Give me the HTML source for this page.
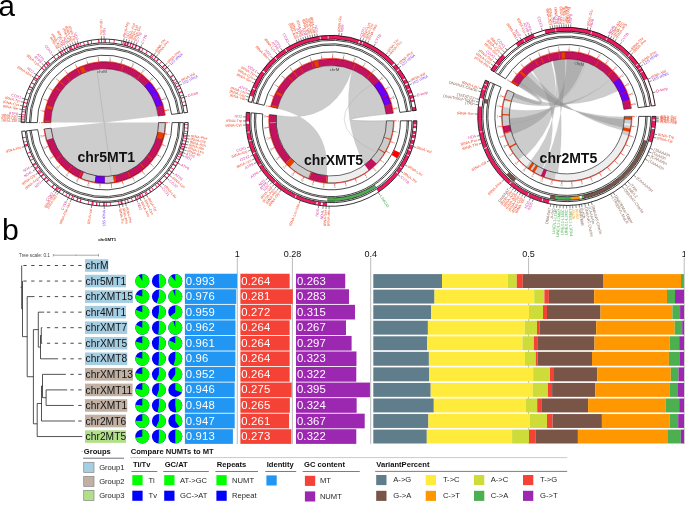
<!DOCTYPE html>
<html lang="en"><head><meta charset="utf-8"><title>NUMT figure</title>
<style>html,body{margin:0;padding:0;background:#fff}body{width:685px;height:505px;overflow:hidden}svg text{white-space:pre}</style></head>
<body>
<svg width="685" height="505" viewBox="0 0 685 505" font-family='"Liberation Sans", Arial, Helvetica, sans-serif' style="display:block">
<rect width="685" height="505" fill="#fff"/>
<g id="circos-chr5MT1">
<g fill="#8c8c8c" fill-opacity="0.44" stroke="#9a9a9a" stroke-opacity="0.5" stroke-width="0.25">
</g>
<circle cx="104.7" cy="122.6" r="54.20" fill="#cdcdcd"/>
<path d="M104.7 122.6L50.80 128.27L50.50 122.60ZM104.7 122.6L158.50 115.99L158.90 122.60Z" fill="#fff"/>
<path d="M97.2 72.5L111.6 177.0" stroke="#9e9e9e" stroke-width="0.4"/>
<path d="M21.20 122.60A83.50 83.50 0 0 1 187.58 112.42L184.00 112.86A79.90 79.90 0 0 0 24.80 122.60Z" fill="#fff" stroke="none"/>
<path d="M21.41 121.63A83.30 83.30 0 0 1 21.42 120.67L24.62 120.74A80.10 80.10 0 0 0 24.61 121.66ZM21.46 119.45A83.30 83.30 0 0 1 21.50 118.49L24.70 118.65A80.10 80.10 0 0 0 24.66 119.57ZM21.57 117.27A83.30 83.30 0 0 1 21.64 116.31L24.83 116.55A80.10 80.10 0 0 0 24.76 117.47ZM21.74 115.09A83.30 83.30 0 0 1 21.83 114.14L25.01 114.46A80.10 80.10 0 0 0 24.93 115.38ZM22.35 110.04A83.30 83.30 0 0 1 22.50 109.10L25.66 109.61A80.10 80.10 0 0 0 25.52 110.53ZM22.98 106.46A83.30 83.30 0 0 1 23.17 105.52L26.30 106.18A80.10 80.10 0 0 0 26.12 107.08ZM23.76 102.91A83.30 83.30 0 0 1 23.99 101.98L27.09 102.77A80.10 80.10 0 0 0 26.87 103.67ZM24.70 99.40A83.30 83.30 0 0 1 24.97 98.48L28.03 99.41A80.10 80.10 0 0 0 27.77 100.29ZM34.19 78.25A83.30 83.30 0 0 1 34.70 77.44L37.39 79.17A80.10 80.10 0 0 0 36.90 79.95ZM36.19 75.21A83.30 83.30 0 0 1 36.74 74.43L39.35 76.28A80.10 80.10 0 0 0 38.82 77.04ZM41.52 68.31A83.30 83.30 0 0 1 42.15 67.59L44.55 69.70A80.10 80.10 0 0 0 43.95 70.40ZM43.70 65.87A83.30 83.30 0 0 1 44.36 65.18L46.67 67.38A80.10 80.10 0 0 0 46.04 68.05ZM45.97 63.52A83.30 83.30 0 0 1 46.66 62.85L48.89 65.15A80.10 80.10 0 0 0 48.23 65.79ZM53.38 56.99A83.30 83.30 0 0 1 54.14 56.40L56.08 58.94A80.10 80.10 0 0 0 55.35 59.51ZM59.54 52.60A83.30 83.30 0 0 1 60.35 52.09L62.05 54.80A80.10 80.10 0 0 0 61.27 55.29ZM61.70 51.26A83.30 83.30 0 0 1 62.52 50.77L64.14 53.53A80.10 80.10 0 0 0 63.35 54.00ZM63.90 49.98A83.30 83.30 0 0 1 64.74 49.51L66.27 52.32A80.10 80.10 0 0 0 65.46 52.77ZM66.13 48.77A83.30 83.30 0 0 1 66.99 48.33L68.44 51.18A80.10 80.10 0 0 0 67.61 51.60ZM68.41 47.62A83.30 83.30 0 0 1 69.27 47.21L70.63 50.11A80.10 80.10 0 0 0 69.80 50.50ZM70.71 46.55A83.30 83.30 0 0 1 71.59 46.16L72.86 49.10A80.10 80.10 0 0 0 72.02 49.47ZM73.05 45.55A83.30 83.30 0 0 1 73.94 45.19L75.12 48.16A80.10 80.10 0 0 0 74.27 48.51ZM75.42 44.62A83.30 83.30 0 0 1 76.32 44.28L77.41 47.29A80.10 80.10 0 0 0 76.54 47.61ZM77.81 43.76A83.30 83.30 0 0 1 78.72 43.45L79.72 46.49A80.10 80.10 0 0 0 78.85 46.79ZM101.02 39.38A83.30 83.30 0 0 1 101.98 39.34L102.09 42.54A80.10 80.10 0 0 0 101.16 42.58ZM103.64 39.31A83.30 83.30 0 0 1 104.60 39.30L104.60 42.50A80.10 80.10 0 0 0 103.68 42.51ZM122.97 41.33A83.30 83.30 0 0 1 123.91 41.54L123.17 44.66A80.10 80.10 0 0 0 122.27 44.45ZM125.51 41.94A83.30 83.30 0 0 1 126.44 42.19L125.61 45.28A80.10 80.10 0 0 0 124.71 45.04ZM128.04 42.64A83.30 83.30 0 0 1 128.96 42.91L128.03 45.97A80.10 80.10 0 0 0 127.14 45.71ZM130.54 43.41A83.30 83.30 0 0 1 131.45 43.71L130.42 46.74A80.10 80.10 0 0 0 129.55 46.45ZM133.01 44.26A83.30 83.30 0 0 1 133.91 44.59L132.79 47.59A80.10 80.10 0 0 0 131.92 47.27ZM135.46 45.19A83.30 83.30 0 0 1 136.35 45.55L135.13 48.51A80.10 80.10 0 0 0 134.28 48.16ZM140.13 47.21A83.30 83.30 0 0 1 140.99 47.62L139.60 50.50A80.10 80.10 0 0 0 138.77 50.11ZM153.27 54.93A83.30 83.30 0 0 1 154.05 55.49L152.15 58.07A80.10 80.10 0 0 0 151.41 57.53ZM155.61 56.66A83.30 83.30 0 0 1 156.36 57.26L154.38 59.77A80.10 80.10 0 0 0 153.65 59.20ZM164.79 64.91A83.30 83.30 0 0 1 165.45 65.61L163.12 67.80A80.10 80.10 0 0 0 162.48 67.13ZM166.77 67.05A83.30 83.30 0 0 1 167.40 67.76L165.00 69.87A80.10 80.10 0 0 0 164.38 69.18ZM177.68 82.43A83.30 83.30 0 0 1 178.13 83.27L175.31 84.79A80.10 80.10 0 0 0 174.87 83.97ZM179.03 85.00A83.30 83.30 0 0 1 179.46 85.86L176.59 87.27A80.10 80.10 0 0 0 176.18 86.45ZM183.91 96.82A83.30 83.30 0 0 1 184.20 97.73L181.15 98.69A80.10 80.10 0 0 0 180.87 97.81ZM21.46 119.52A83.30 83.30 0 0 1 21.49 118.65L24.69 118.80A80.10 80.10 0 0 0 24.65 119.64ZM22.07 112.04A83.30 83.30 0 0 1 22.19 111.17L25.36 111.61A80.10 80.10 0 0 0 25.25 112.44ZM22.76 107.60A83.30 83.30 0 0 1 22.90 106.89L26.04 107.49A80.10 80.10 0 0 0 25.91 108.18ZM23.72 103.07A83.30 83.30 0 0 1 23.93 102.22L27.03 103.00A80.10 80.10 0 0 0 26.83 103.82ZM24.64 99.61A83.30 83.30 0 0 1 24.88 98.77L27.95 99.69A80.10 80.10 0 0 0 27.71 100.49ZM26.79 93.12A83.30 83.30 0 0 1 27.05 92.44L30.03 93.60A80.10 80.10 0 0 0 29.78 94.25ZM28.36 89.27A83.30 83.30 0 0 1 28.71 88.48L31.63 89.79A80.10 80.10 0 0 0 31.29 90.55ZM29.25 87.29A83.30 83.30 0 0 1 29.82 86.11L32.70 87.51A80.10 80.10 0 0 0 32.15 88.64ZM31.24 83.32A83.30 83.30 0 0 1 31.87 82.17L34.67 83.73A80.10 80.10 0 0 0 34.06 84.83ZM33.35 79.61A83.30 83.30 0 0 1 33.80 78.87L36.53 80.55A80.10 80.10 0 0 0 36.09 81.27ZM34.65 77.53A83.30 83.30 0 0 1 35.04 76.92L37.72 78.68A80.10 80.10 0 0 0 37.34 79.26ZM41.57 68.26A83.30 83.30 0 0 1 42.14 67.60L44.54 69.71A80.10 80.10 0 0 0 43.99 70.34ZM43.49 66.11A83.30 83.30 0 0 1 44.08 65.47L46.41 67.66A80.10 80.10 0 0 0 45.84 68.28ZM45.56 63.93A83.30 83.30 0 0 1 46.18 63.32L48.43 65.60A80.10 80.10 0 0 0 47.83 66.19ZM47.18 62.35A83.30 83.30 0 0 1 48.13 61.45L50.31 63.80A80.10 80.10 0 0 0 49.39 64.66ZM56.90 54.38A83.30 83.30 0 0 1 57.62 53.88L59.43 56.52A80.10 80.10 0 0 0 58.74 57.00ZM59.79 52.44A83.30 83.30 0 0 1 60.90 51.75L62.58 54.47A80.10 80.10 0 0 0 61.52 55.14ZM63.71 50.08A83.30 83.30 0 0 1 64.47 49.66L66.02 52.46A80.10 80.10 0 0 0 65.29 52.87ZM66.22 48.72A83.30 83.30 0 0 1 66.86 48.39L68.32 51.24A80.10 80.10 0 0 0 67.69 51.56ZM69.35 47.18A83.30 83.30 0 0 1 70.53 46.63L71.85 49.55A80.10 80.10 0 0 0 70.70 50.07ZM73.63 45.31A83.30 83.30 0 0 1 74.30 45.04L75.47 48.02A80.10 80.10 0 0 0 74.82 48.28ZM76.41 44.25A83.30 83.30 0 0 1 77.09 44.01L78.15 47.03A80.10 80.10 0 0 0 77.49 47.26ZM79.87 43.09A83.30 83.30 0 0 1 80.57 42.87L81.49 45.94A80.10 80.10 0 0 0 80.82 46.14ZM83.15 42.14A83.30 83.30 0 0 1 83.99 41.91L84.79 45.01A80.10 80.10 0 0 0 83.98 45.23ZM86.96 41.21A83.30 83.30 0 0 1 88.24 40.94L88.87 44.08A80.10 80.10 0 0 0 87.64 44.34ZM90.76 40.47A83.30 83.30 0 0 1 91.62 40.33L92.12 43.49A80.10 80.10 0 0 0 91.30 43.63ZM98.08 39.56A83.30 83.30 0 0 1 99.39 39.47L99.59 42.66A80.10 80.10 0 0 0 98.34 42.75ZM101.01 39.38A83.30 83.30 0 0 1 101.74 39.35L101.85 42.55A80.10 80.10 0 0 0 101.15 42.58ZM105.02 39.30A83.30 83.30 0 0 1 105.89 39.31L105.85 42.51A80.10 80.10 0 0 0 105.01 42.50ZM109.10 39.42A83.30 83.30 0 0 1 109.97 39.47L109.76 42.66A80.10 80.10 0 0 0 108.93 42.61ZM113.86 39.81A83.30 83.30 0 0 1 114.73 39.91L114.35 43.08A80.10 80.10 0 0 0 113.51 42.99ZM121.40 40.99A83.30 83.30 0 0 1 122.11 41.14L121.44 44.27A80.10 80.10 0 0 0 120.76 44.13ZM124.61 41.72A83.30 83.30 0 0 1 125.46 41.93L124.66 45.03A80.10 80.10 0 0 0 123.85 44.82ZM127.06 42.36A83.30 83.30 0 0 1 128.32 42.72L127.41 45.79A80.10 80.10 0 0 0 126.20 45.44ZM130.35 43.35A83.30 83.30 0 0 1 131.18 43.62L130.16 46.65A80.10 80.10 0 0 0 129.36 46.39ZM132.78 44.17A83.30 83.30 0 0 1 133.60 44.47L132.49 47.47A80.10 80.10 0 0 0 131.70 47.19ZM136.37 45.56A83.30 83.30 0 0 1 137.04 45.83L135.80 48.78A80.10 80.10 0 0 0 135.15 48.52ZM139.36 46.85A83.30 83.30 0 0 1 140.15 47.22L138.79 50.12A80.10 80.10 0 0 0 138.03 49.76ZM142.66 48.45A83.30 83.30 0 0 1 143.43 48.85L141.95 51.69A80.10 80.10 0 0 0 141.20 51.30ZM146.93 50.80A83.30 83.30 0 0 1 147.68 51.24L146.03 53.98A80.10 80.10 0 0 0 145.30 53.55ZM151.67 53.81A83.30 83.30 0 0 1 152.75 54.55L150.90 57.17A80.10 80.10 0 0 0 149.87 56.45ZM155.53 56.61A83.30 83.30 0 0 1 156.22 57.14L154.24 59.66A80.10 80.10 0 0 0 153.58 59.14ZM158.00 58.59A83.30 83.30 0 0 1 159.00 59.43L156.92 61.86A80.10 80.10 0 0 0 155.96 61.05ZM161.35 61.53A83.30 83.30 0 0 1 161.88 62.02L159.68 64.35A80.10 80.10 0 0 0 159.17 63.87ZM164.50 64.62A83.30 83.30 0 0 1 165.01 65.14L162.69 67.35A80.10 80.10 0 0 0 162.21 66.84ZM166.57 66.83A83.30 83.30 0 0 1 167.06 67.37L164.66 69.49A80.10 80.10 0 0 0 164.20 68.97ZM169.40 70.13A83.30 83.30 0 0 1 169.95 70.82L167.44 72.80A80.10 80.10 0 0 0 166.92 72.15ZM172.89 74.76A83.30 83.30 0 0 1 173.64 75.84L170.99 77.63A80.10 80.10 0 0 0 170.27 76.60ZM175.62 78.91A83.30 83.30 0 0 1 176.08 79.66L173.34 81.31A80.10 80.10 0 0 0 172.90 80.59ZM176.91 81.07A83.30 83.30 0 0 1 177.27 81.70L174.48 83.27A80.10 80.10 0 0 0 174.13 82.66ZM179.18 85.29A83.30 83.30 0 0 1 179.56 86.07L176.69 87.47A80.10 80.10 0 0 0 176.32 86.72ZM180.41 87.86A83.30 83.30 0 0 1 180.77 88.66L177.85 89.96A80.10 80.10 0 0 0 177.50 89.20ZM181.80 91.07A83.30 83.30 0 0 1 182.29 92.28L179.31 93.45A80.10 80.10 0 0 0 178.84 92.28ZM183.18 94.67A83.30 83.30 0 0 1 183.47 95.49L180.44 96.53A80.10 80.10 0 0 0 180.16 95.74ZM185.21 101.21A83.30 83.30 0 0 1 185.43 102.06L182.33 102.84A80.10 80.10 0 0 0 182.11 102.03ZM186.02 104.57A83.30 83.30 0 0 1 186.30 105.85L183.16 106.49A80.10 80.10 0 0 0 182.90 105.26Z" fill="#ee1a60"/>
<path d="M21.20 122.60A83.50 83.50 0 0 1 187.58 112.42L184.00 112.86A79.90 79.90 0 0 0 24.80 122.60Z" fill="none" stroke="#000" stroke-width="0.8"/>
<path d="M26.05 122.60A78.65 78.65 0 0 1 182.76 113.01M29.40 122.60A75.30 75.30 0 0 1 179.44 113.42M30.70 122.60A74.00 74.00 0 0 1 178.15 113.58M26.05 122.60L37.30 122.60M182.76 113.01L171.60 114.39M37.30 122.60A67.40 67.40 0 0 1 171.60 114.39" fill="none" stroke="#000" stroke-width="0.72"/>
<path d="M44.00 122.60A60.70 60.70 0 0 1 164.95 115.20L158.20 116.03A53.90 53.90 0 0 0 50.80 122.60Z" fill="#c4125f"/>
<path d="M44.00 122.60A60.70 60.70 0 0 1 44.04 120.40L50.84 120.65A53.90 53.90 0 0 0 50.80 122.60ZM45.76 108.08A60.70 60.70 0 0 1 46.48 105.43L53.00 107.35A53.90 53.90 0 0 0 52.36 109.71ZM55.05 87.68A60.70 60.70 0 0 1 55.58 86.94L61.09 90.93A53.90 53.90 0 0 0 60.61 91.59ZM59.62 81.95A60.70 60.70 0 0 1 60.36 81.14L65.33 85.79A53.90 53.90 0 0 0 64.67 86.51ZM65.82 75.99A60.70 60.70 0 0 1 66.39 75.52L70.68 80.79A53.90 53.90 0 0 0 70.18 81.21ZM76.79 68.70A60.70 60.70 0 0 1 77.61 68.28L80.64 74.37A53.90 53.90 0 0 0 79.92 74.74ZM79.43 67.41A60.70 60.70 0 0 1 83.49 65.73L85.86 72.10A53.90 53.90 0 0 0 82.26 73.59ZM122.89 64.69A60.70 60.70 0 0 1 123.76 64.97L121.62 71.43A53.90 53.90 0 0 0 120.85 71.18ZM140.63 73.67A60.70 60.70 0 0 1 141.36 74.22L137.25 79.64A53.90 53.90 0 0 0 136.60 79.15Z" fill="#e64000"/>
<path d="M149.48 81.62A60.70 60.70 0 0 1 162.79 104.99L156.28 106.97A53.90 53.90 0 0 0 144.46 86.21Z" fill="#6a00f4"/>
<path d="M159.08 95.63A60.70 60.70 0 0 1 159.40 96.29L153.27 99.24A53.90 53.90 0 0 0 152.99 98.65Z" fill="#e0003c"/>
<path d="M44.00 122.60A60.70 60.70 0 0 1 164.95 115.20L158.20 116.03A53.90 53.90 0 0 0 50.80 122.60Z" fill="none" stroke="#2a0a14" stroke-width="0.45"/>
<path d="M43.55 122.60A61.15 61.15 0 0 1 165.39 115.15M43.70 122.60L41.00 122.60M44.73 111.43L42.08 110.94M47.79 100.64L45.27 99.67M52.77 90.59L50.47 89.18M59.51 81.63L57.51 79.82M67.77 74.05L66.14 71.90M77.28 68.11L76.07 65.70M87.72 64.01L86.97 61.42M98.74 61.89L98.47 59.21M109.95 61.83L110.18 59.14M120.99 63.82L121.71 61.21M131.48 67.79L132.66 65.36M141.06 73.62L142.67 71.45M149.41 81.10L151.39 79.27M156.25 89.99L158.53 88.55M161.35 99.98L163.86 98.98M164.53 110.73L167.18 110.21" fill="none" stroke="#ff2a1a" stroke-width="0.7"/>
<g font-size="2.4" fill="#666" text-anchor="middle"><text x="39.80" y="122.60" transform="rotate(450.0 39.80 122.60)" dy="0.8">0</text><text x="40.90" y="110.72" transform="rotate(280.5 40.90 110.72)" dy="0.8">1</text><text x="44.15" y="99.24" transform="rotate(291.1 44.15 99.24)" dy="0.8">2</text><text x="49.45" y="88.55" transform="rotate(301.6 49.45 88.55)" dy="0.8">3</text><text x="56.62" y="79.01" transform="rotate(312.2 56.62 79.01)" dy="0.8">4</text><text x="65.41" y="70.94" transform="rotate(322.7 65.41 70.94)" dy="0.8">5</text><text x="75.53" y="64.62" transform="rotate(333.3 75.53 64.62)" dy="0.8">6</text><text x="86.64" y="60.26" transform="rotate(343.8 86.64 60.26)" dy="0.8">7</text><text x="98.36" y="58.01" transform="rotate(354.4 98.36 58.01)" dy="0.8">8</text><text x="110.29" y="57.94" transform="rotate(364.9 110.29 57.94)" dy="0.8">9</text><text x="122.03" y="60.06" transform="rotate(375.5 122.03 60.06)" dy="0.8">10</text><text x="133.19" y="64.29" transform="rotate(386.0 133.19 64.29)" dy="0.8">11</text><text x="143.38" y="70.49" transform="rotate(396.6 143.38 70.49)" dy="0.8">12</text><text x="152.27" y="78.45" transform="rotate(407.1 152.27 78.45)" dy="0.8">13</text><text x="159.55" y="87.90" transform="rotate(417.7 159.55 87.90)" dy="0.8">14</text><text x="164.97" y="98.53" transform="rotate(428.2 164.97 98.53)" dy="0.8">15</text><text x="168.36" y="109.97" transform="rotate(438.8 168.36 109.97)" dy="0.8">16</text></g>
<path d="M188.20 122.60A83.50 83.50 0 0 1 21.66 131.33L25.24 130.95A79.90 79.90 0 0 0 184.60 122.60Z" fill="#fff" stroke="none"/>
<path d="M187.05 135.16A83.30 83.30 0 0 1 186.90 136.10L183.74 135.59A80.10 80.10 0 0 0 183.88 134.67ZM186.56 138.02A83.30 83.30 0 0 1 186.38 138.97L183.24 138.34A80.10 80.10 0 0 0 183.42 137.43ZM185.97 140.87A83.30 83.30 0 0 1 185.76 141.81L182.64 141.07A80.10 80.10 0 0 0 182.85 140.17ZM185.28 143.70A83.30 83.30 0 0 1 185.04 144.62L181.95 143.78A80.10 80.10 0 0 0 182.19 142.89ZM184.50 146.50A83.30 83.30 0 0 1 184.22 147.41L181.16 146.46A80.10 80.10 0 0 0 181.43 145.58ZM183.62 149.27A83.30 83.30 0 0 1 183.30 150.17L180.28 149.11A80.10 80.10 0 0 0 180.58 148.24ZM182.64 152.00A83.30 83.30 0 0 1 182.29 152.90L179.31 151.74A80.10 80.10 0 0 0 179.64 150.87ZM181.56 154.71A83.30 83.30 0 0 1 181.19 155.59L178.25 154.32A80.10 80.10 0 0 0 178.61 153.47ZM177.79 162.56A83.30 83.30 0 0 1 177.32 163.40L174.53 161.84A80.10 80.10 0 0 0 174.98 161.03ZM171.95 171.76A83.30 83.30 0 0 1 171.37 172.53L168.81 170.62A80.10 80.10 0 0 0 169.36 169.87ZM169.60 174.82A83.30 83.30 0 0 1 168.99 175.56L166.52 173.53A80.10 80.10 0 0 0 167.11 172.81ZM167.12 177.76A83.30 83.30 0 0 1 166.48 178.48L164.10 176.33A80.10 80.10 0 0 0 164.72 175.64ZM162.39 182.69A83.30 83.30 0 0 1 161.69 183.35L159.50 181.02A80.10 80.10 0 0 0 160.17 180.38ZM160.04 184.86A83.30 83.30 0 0 1 159.32 185.50L157.22 183.08A80.10 80.10 0 0 0 157.91 182.47ZM146.76 194.50A83.30 83.30 0 0 1 145.93 194.98L144.35 192.20A80.10 80.10 0 0 0 145.15 191.74ZM143.59 196.27A83.30 83.30 0 0 1 142.74 196.71L141.28 193.86A80.10 80.10 0 0 0 142.09 193.44ZM140.34 197.89A83.30 83.30 0 0 1 139.47 198.30L138.13 195.39A80.10 80.10 0 0 0 138.97 195.00ZM137.02 199.37A83.30 83.30 0 0 1 136.13 199.74L134.93 196.78A80.10 80.10 0 0 0 135.78 196.42ZM126.02 203.13A83.30 83.30 0 0 1 125.09 203.37L124.31 200.26A80.10 80.10 0 0 0 125.20 200.03ZM122.84 203.90A83.30 83.30 0 0 1 121.91 204.10L121.24 200.97A80.10 80.10 0 0 0 122.15 200.78ZM119.64 204.55A83.30 83.30 0 0 1 118.69 204.72L118.15 201.56A80.10 80.10 0 0 0 119.06 201.40ZM104.74 205.90A83.30 83.30 0 0 1 103.78 205.89L103.82 202.70A80.10 80.10 0 0 0 104.74 202.70ZM92.29 204.97A83.30 83.30 0 0 1 91.34 204.82L91.85 201.66A80.10 80.10 0 0 0 92.76 201.81ZM71.92 199.18A83.30 83.30 0 0 1 71.04 198.80L72.34 195.87A80.10 80.10 0 0 0 73.18 196.24ZM68.88 197.80A83.30 83.30 0 0 1 68.01 197.39L69.42 194.51A80.10 80.10 0 0 0 70.25 194.92ZM59.12 192.33A83.30 83.30 0 0 1 58.32 191.80L60.11 189.14A80.10 80.10 0 0 0 60.88 189.65ZM57.31 191.11A83.30 83.30 0 0 1 56.53 190.56L58.38 187.95A80.10 80.10 0 0 0 59.14 188.48ZM55.54 189.85A83.30 83.30 0 0 1 54.77 189.27L56.68 186.71A80.10 80.10 0 0 0 57.43 187.26ZM44.11 179.76A83.30 83.30 0 0 1 43.45 179.06L45.80 176.89A80.10 80.10 0 0 0 46.43 177.56ZM41.20 176.51A83.30 83.30 0 0 1 40.58 175.78L43.04 173.73A80.10 80.10 0 0 0 43.64 174.44ZM38.46 173.11A83.30 83.30 0 0 1 37.89 172.35L40.45 170.44A80.10 80.10 0 0 0 41.01 171.17ZM35.91 169.58A83.30 83.30 0 0 1 35.37 168.78L38.04 167.01A80.10 80.10 0 0 0 38.55 167.77ZM33.55 165.91A83.30 83.30 0 0 1 33.05 165.09L35.80 163.46A80.10 80.10 0 0 0 36.28 164.25ZM25.01 146.86A83.30 83.30 0 0 1 24.74 145.94L27.81 145.04A80.10 80.10 0 0 0 28.07 145.93ZM187.98 124.34A83.30 83.30 0 0 1 187.96 125.22L184.76 125.12A80.10 80.10 0 0 0 184.78 124.28ZM187.84 127.77A83.30 83.30 0 0 1 187.79 128.50L184.60 128.27A80.10 80.10 0 0 0 184.65 127.57ZM187.58 130.97A83.30 83.30 0 0 1 187.49 131.84L184.31 131.49A80.10 80.10 0 0 0 184.39 130.65ZM187.29 133.45A83.30 83.30 0 0 1 187.19 134.17L184.02 133.73A80.10 80.10 0 0 0 184.12 133.04ZM186.85 136.38A83.30 83.30 0 0 1 186.73 137.09L183.58 136.54A80.10 80.10 0 0 0 183.70 135.85ZM186.01 140.71A83.30 83.30 0 0 1 185.81 141.56L182.70 140.83A80.10 80.10 0 0 0 182.88 140.02ZM185.03 144.64A83.30 83.30 0 0 1 184.84 145.34L181.76 144.47A80.10 80.10 0 0 0 181.95 143.79ZM183.95 148.25A83.30 83.30 0 0 1 183.68 149.08L180.65 148.06A80.10 80.10 0 0 0 180.91 147.26ZM182.05 153.52A83.30 83.30 0 0 1 181.78 154.19L178.82 152.98A80.10 80.10 0 0 0 179.08 152.33ZM180.58 156.96A83.30 83.30 0 0 1 180.22 157.76L177.32 156.41A80.10 80.10 0 0 0 177.67 155.64ZM179.47 159.31A83.30 83.30 0 0 1 179.09 160.09L176.23 158.65A80.10 80.10 0 0 0 176.60 157.90ZM177.93 162.31A83.30 83.30 0 0 1 177.58 162.95L174.78 161.40A80.10 80.10 0 0 0 175.11 160.78ZM176.19 165.36A83.30 83.30 0 0 1 175.51 166.48L172.79 164.79A80.10 80.10 0 0 0 173.44 163.72ZM173.87 169.01A83.30 83.30 0 0 1 173.38 169.73L170.74 167.92A80.10 80.10 0 0 0 171.21 167.23ZM169.85 174.51A83.30 83.30 0 0 1 169.30 175.19L166.82 173.17A80.10 80.10 0 0 0 167.34 172.52ZM167.18 177.70A83.30 83.30 0 0 1 166.60 178.35L164.22 176.21A80.10 80.10 0 0 0 164.78 175.58ZM161.60 183.44A83.30 83.30 0 0 1 161.07 183.93L158.90 181.58A80.10 80.10 0 0 0 159.41 181.10ZM159.70 185.16A83.30 83.30 0 0 1 159.04 185.73L156.96 183.31A80.10 80.10 0 0 0 157.59 182.76ZM157.57 186.97A83.30 83.30 0 0 1 157.01 187.43L155.00 184.94A80.10 80.10 0 0 0 155.54 184.50ZM153.80 189.89A83.30 83.30 0 0 1 153.09 190.40L151.23 187.80A80.10 80.10 0 0 0 151.91 187.31ZM151.35 191.62A83.30 83.30 0 0 1 150.26 192.34L148.51 189.66A80.10 80.10 0 0 0 149.55 188.96ZM147.86 193.84A83.30 83.30 0 0 1 147.24 194.22L145.61 191.47A80.10 80.10 0 0 0 146.21 191.11ZM143.69 196.21A83.30 83.30 0 0 1 143.05 196.55L141.57 193.71A80.10 80.10 0 0 0 142.19 193.38ZM141.74 197.21A83.30 83.30 0 0 1 140.56 197.79L139.18 194.90A80.10 80.10 0 0 0 140.32 194.35ZM138.76 198.62A83.30 83.30 0 0 1 137.97 198.97L136.69 196.04A80.10 80.10 0 0 0 137.46 195.70ZM136.57 199.56A83.30 83.30 0 0 1 135.77 199.89L134.57 196.92A80.10 80.10 0 0 0 135.35 196.60ZM132.91 200.98A83.30 83.30 0 0 1 132.09 201.27L131.04 198.25A80.10 80.10 0 0 0 131.83 197.97ZM128.80 202.34A83.30 83.30 0 0 1 127.96 202.59L127.07 199.51A80.10 80.10 0 0 0 127.87 199.28ZM122.24 204.03A83.30 83.30 0 0 1 120.96 204.30L120.33 201.16A80.10 80.10 0 0 0 121.57 200.90ZM110.86 205.67A83.30 83.30 0 0 1 109.99 205.73L109.79 202.54A80.10 80.10 0 0 0 110.62 202.48ZM106.75 205.87A83.30 83.30 0 0 1 105.88 205.89L105.83 202.69A80.10 80.10 0 0 0 106.67 202.68ZM104.03 205.90A83.30 83.30 0 0 1 103.16 205.89L103.22 202.69A80.10 80.10 0 0 0 104.06 202.70ZM99.98 205.77A83.30 83.30 0 0 1 99.11 205.71L99.33 202.52A80.10 80.10 0 0 0 100.16 202.57ZM97.20 205.56A83.30 83.30 0 0 1 95.89 205.43L96.23 202.25A80.10 80.10 0 0 0 97.48 202.37ZM93.28 205.11A83.30 83.30 0 0 1 92.41 204.99L92.89 201.82A80.10 80.10 0 0 0 93.72 201.94ZM88.45 204.30A83.30 83.30 0 0 1 87.74 204.16L88.39 201.02A80.10 80.10 0 0 0 89.08 201.16ZM80.65 202.35A83.30 83.30 0 0 1 79.40 201.96L80.37 198.92A80.10 80.10 0 0 0 81.57 199.29ZM77.44 201.31A83.30 83.30 0 0 1 76.21 200.88L77.31 197.87A80.10 80.10 0 0 0 78.49 198.29ZM73.44 199.81A83.30 83.30 0 0 1 72.77 199.54L73.99 196.58A80.10 80.10 0 0 0 74.64 196.85ZM68.95 197.84A83.30 83.30 0 0 1 68.30 197.53L69.70 194.65A80.10 80.10 0 0 0 70.33 194.95ZM66.08 196.40A83.30 83.30 0 0 1 65.43 196.06L66.94 193.24A80.10 80.10 0 0 0 67.56 193.57ZM62.80 194.60A83.30 83.30 0 0 1 62.05 194.16L63.69 191.41A80.10 80.10 0 0 0 64.41 191.83ZM59.45 192.54A83.30 83.30 0 0 1 58.72 192.06L60.49 189.39A80.10 80.10 0 0 0 61.19 189.85ZM56.20 190.33A83.30 83.30 0 0 1 55.50 189.82L57.39 187.23A80.10 80.10 0 0 0 58.07 187.73ZM52.53 187.54A83.30 83.30 0 0 1 51.52 186.71L53.56 184.25A80.10 80.10 0 0 0 54.54 185.05ZM46.85 182.54A83.30 83.30 0 0 1 45.92 181.62L48.18 179.35A80.10 80.10 0 0 0 49.07 180.24ZM44.48 180.16A83.30 83.30 0 0 1 43.88 179.52L46.22 177.34A80.10 80.10 0 0 0 46.80 177.94ZM41.62 177.00A83.30 83.30 0 0 1 41.05 176.34L43.50 174.27A80.10 80.10 0 0 0 44.04 174.91ZM39.28 174.16A83.30 83.30 0 0 1 38.74 173.47L41.27 171.52A80.10 80.10 0 0 0 41.79 172.18ZM37.59 171.95A83.30 83.30 0 0 1 37.16 171.36L39.76 169.49A80.10 80.10 0 0 0 40.17 170.05ZM35.13 168.41A83.30 83.30 0 0 1 34.73 167.80L37.42 166.07A80.10 80.10 0 0 0 37.80 166.65ZM32.97 164.95A83.30 83.30 0 0 1 32.53 164.20L35.30 162.60A80.10 80.10 0 0 0 35.73 163.33ZM30.70 160.84A83.30 83.30 0 0 1 30.30 160.06L33.16 158.62A80.10 80.10 0 0 0 33.54 159.37ZM29.06 157.50A83.30 83.30 0 0 1 28.70 156.70L31.62 155.39A80.10 80.10 0 0 0 31.97 156.16ZM27.48 153.83A83.30 83.30 0 0 1 27.15 153.02L30.13 151.86A80.10 80.10 0 0 0 30.44 152.63ZM24.70 145.83A83.30 83.30 0 0 1 24.35 144.57L27.44 143.72A80.10 80.10 0 0 0 27.78 144.93ZM23.79 142.40A83.30 83.30 0 0 1 23.62 141.69L26.73 140.96A80.10 80.10 0 0 0 26.90 141.64ZM22.87 138.18A83.30 83.30 0 0 1 22.71 137.32L25.86 136.75A80.10 80.10 0 0 0 26.01 137.58Z" fill="#ee1a60"/>
<path d="M188.20 122.60A83.50 83.50 0 0 1 21.66 131.33L25.24 130.95A79.90 79.90 0 0 0 184.60 122.60Z" fill="none" stroke="#000" stroke-width="0.8"/>
<path d="M183.35 122.60A78.65 78.65 0 0 1 26.48 130.82M180.00 122.60A75.30 75.30 0 0 1 29.81 130.47M178.70 122.60A74.00 74.00 0 0 1 31.11 130.34M183.35 122.60L172.10 122.60M26.48 130.82L37.67 129.65M172.10 122.60A67.40 67.40 0 0 1 37.67 129.65" fill="none" stroke="#000" stroke-width="0.72"/>
<path d="M165.40 122.60A60.70 60.70 0 0 1 44.33 128.94L51.10 128.23A53.90 53.90 0 0 0 158.60 122.60Z" fill="#c4125f"/>
<path d="M165.40 122.60A60.70 60.70 0 0 1 164.48 133.14L157.78 131.96A53.90 53.90 0 0 0 158.60 122.60ZM114.20 182.55A60.70 60.70 0 0 1 104.70 183.30L104.70 176.50A53.90 53.90 0 0 0 113.13 175.84ZM94.68 182.47A60.70 60.70 0 0 1 81.28 178.60L83.90 172.32A53.90 53.90 0 0 0 95.80 175.76ZM46.53 139.94A60.70 60.70 0 0 1 44.33 128.94L51.10 128.23A53.90 53.90 0 0 0 53.05 138.00Z" fill="#cccccc"/>
<path d="M164.48 133.14A60.70 60.70 0 0 1 162.96 139.64L156.43 137.73A53.90 53.90 0 0 0 157.78 131.96ZM153.05 159.30A60.70 60.70 0 0 1 152.53 159.97L147.17 155.78A53.90 53.90 0 0 0 147.63 155.19ZM144.84 168.13A60.70 60.70 0 0 1 144.20 168.69L139.78 163.52A53.90 53.90 0 0 0 140.34 163.03ZM130.74 177.43A60.70 60.70 0 0 1 129.97 177.79L127.14 171.61A53.90 53.90 0 0 0 127.82 171.29ZM116.49 182.14A60.70 60.70 0 0 1 114.20 182.55L113.13 175.84A53.90 53.90 0 0 0 115.17 175.47ZM79.53 177.83A60.70 60.70 0 0 1 78.57 177.39L81.50 171.25A53.90 53.90 0 0 0 82.35 171.65ZM68.51 171.33A60.70 60.70 0 0 1 67.83 170.82L71.96 165.42A53.90 53.90 0 0 0 72.56 165.87ZM56.48 159.47A60.70 60.70 0 0 1 55.97 158.79L61.43 154.74A53.90 53.90 0 0 0 61.88 155.34Z" fill="#e64000"/>
<path d="M104.70 183.30A60.70 60.70 0 0 1 94.68 182.47L95.80 175.76A53.90 53.90 0 0 0 104.70 176.50Z" fill="#6a00f4"/>
<path d="M165.40 122.60A60.70 60.70 0 0 1 44.33 128.94L51.10 128.23A53.90 53.90 0 0 0 158.60 122.60Z" fill="none" stroke="#111" stroke-width="0.6"/>
<path d="M165.85 122.60A61.15 61.15 0 0 1 43.88 128.99M165.70 122.60L168.40 122.60M164.68 133.70L167.34 134.19M161.66 144.42L164.18 145.39M156.74 154.42L159.04 155.83M150.08 163.36L152.09 165.16M141.91 170.94L143.56 173.08M132.50 176.90L133.73 179.30M122.15 181.05L122.93 183.64M111.23 183.25L111.52 185.93M100.09 183.43L99.88 186.12M89.10 181.57L88.41 184.18M78.63 177.75L77.48 180.19M69.03 172.09L67.45 174.28M60.62 164.77L58.67 166.64M53.69 156.05L51.43 157.53M48.45 146.21L45.96 147.26M45.10 135.58L42.46 136.16" fill="none" stroke="#ff2a1a" stroke-width="0.7"/>
<g font-size="2.4" fill="#666" text-anchor="middle"><text x="169.60" y="122.60" transform="rotate(270.0 169.60 122.60)" dy="0.8">0</text><text x="168.52" y="134.41" transform="rotate(280.5 168.52 134.41)" dy="0.8">1</text><text x="165.30" y="145.82" transform="rotate(291.0 165.30 145.82)" dy="0.8">2</text><text x="160.07" y="156.46" transform="rotate(301.4 160.07 156.46)" dy="0.8">3</text><text x="152.98" y="165.97" transform="rotate(311.9 152.98 165.97)" dy="0.8">4</text><text x="144.29" y="174.03" transform="rotate(322.4 144.29 174.03)" dy="0.8">5</text><text x="134.27" y="180.37" transform="rotate(332.9 134.27 180.37)" dy="0.8">6</text><text x="123.27" y="184.79" transform="rotate(343.4 123.27 184.79)" dy="0.8">7</text><text x="111.65" y="187.13" transform="rotate(353.9 111.65 187.13)" dy="0.8">8</text><text x="99.79" y="187.31" transform="rotate(364.3 99.79 187.31)" dy="0.8">9</text><text x="88.10" y="185.34" transform="rotate(374.8 88.10 185.34)" dy="0.8">10</text><text x="76.96" y="181.27" transform="rotate(385.3 76.96 181.27)" dy="0.8">11</text><text x="66.75" y="175.25" transform="rotate(395.8 66.75 175.25)" dy="0.8">12</text><text x="57.81" y="167.47" transform="rotate(406.3 57.81 167.47)" dy="0.8">13</text><text x="50.43" y="158.19" transform="rotate(416.7 50.43 158.19)" dy="0.8">14</text><text x="44.86" y="147.72" transform="rotate(427.2 44.86 147.72)" dy="0.8">15</text><text x="41.29" y="136.41" transform="rotate(437.7 41.29 136.41)" dy="0.8">16</text></g>
<g font-size="3.70">
<text x="17.41" y="121.08" transform="rotate(361.0 17.41 121.08)" dy="1" text-anchor="end" fill="#ee4f2c">tRNA-Gln</text>
<text x="17.48" y="118.79" transform="rotate(362.5 17.48 118.79)" dy="1" text-anchor="end" fill="#ee4f2c">tRNA-Leu</text>
<text x="17.61" y="116.51" transform="rotate(364.0 17.61 116.51)" dy="1" text-anchor="end" fill="#ee4f2c">tRNA-Leu</text>
<text x="17.80" y="114.23" transform="rotate(365.5 17.80 114.23)" dy="1" text-anchor="end" fill="#d845a8">ATP8</text>
<text x="18.47" y="108.94" transform="rotate(369.0 18.47 108.94)" dy="1" text-anchor="end" fill="#ee4f2c">tRNA-Ser</text>
<text x="19.15" y="105.20" transform="rotate(371.5 19.15 105.20)" dy="1" text-anchor="end" fill="#ee4f2c">tRNA-Cys</text>
<text x="19.99" y="101.48" transform="rotate(374.0 19.99 101.48)" dy="1" text-anchor="end" fill="#ee4f2c">tRNA-Tyr</text>
<text x="21.00" y="97.81" transform="rotate(376.5 21.00 97.81)" dy="1" text-anchor="end" fill="#d845a8">COX1</text>
<text x="31.07" y="75.69" transform="rotate(392.5 31.07 75.69)" dy="1" text-anchor="end" fill="#ee4f2c">tRNA-Met</text>
<text x="33.19" y="72.53" transform="rotate(395.0 33.19 72.53)" dy="1" text-anchor="end" fill="#d845a8">ND2</text>
<text x="38.81" y="65.33" transform="rotate(401.0 38.81 65.33)" dy="1" text-anchor="end" fill="#ee4f2c">tRNA-Lys</text>
<text x="41.11" y="62.78" transform="rotate(403.2 41.11 62.78)" dy="1" text-anchor="end" fill="#d845a8">ATP8</text>
<text x="43.51" y="60.33" transform="rotate(405.5 43.51 60.33)" dy="1" text-anchor="end" fill="#d845a8">ATP6</text>
<text x="51.31" y="53.53" transform="rotate(412.3 51.31 53.53)" dy="1" text-anchor="end" fill="#d845a8">COX3</text>
<text x="57.79" y="48.97" transform="rotate(417.5 57.79 48.97)" dy="1" text-anchor="end" fill="#ee4f2c">tRNA-Ile</text>
<text x="60.06" y="47.57" transform="rotate(419.2 60.06 47.57)" dy="1" text-anchor="end" fill="#ee4f2c">tRNA-Arg</text>
<text x="62.38" y="46.25" transform="rotate(421.0 62.38 46.25)" dy="1" text-anchor="end" fill="#d845a8">CYTB</text>
<text x="64.73" y="44.99" transform="rotate(422.8 64.73 44.99)" dy="1" text-anchor="end" fill="#ee4f2c">tRNA-Gly</text>
<text x="67.12" y="43.80" transform="rotate(424.5 67.12 43.80)" dy="1" text-anchor="end" fill="#d845a8">ND3</text>
<text x="69.54" y="42.69" transform="rotate(426.2 69.54 42.69)" dy="1" text-anchor="end" fill="#ee4f2c">tRNA-Thr</text>
<text x="72.00" y="41.66" transform="rotate(428.0 72.00 41.66)" dy="1" text-anchor="end" fill="#ee4f2c">tRNA-Asp</text>
<text x="74.48" y="40.70" transform="rotate(429.8 74.48 40.70)" dy="1" text-anchor="end" fill="#ee4f2c">tRNA-Trp</text>
<text x="77.00" y="39.81" transform="rotate(431.5 77.00 39.81)" dy="1" text-anchor="end" fill="#d845a8">ND2</text>
<text x="101.35" y="35.36" transform="rotate(447.8 101.35 35.36)" dy="1" text-anchor="end" fill="#ee4f2c">tRNA-Glu</text>
<text x="104.09" y="35.30" transform="rotate(449.6 104.09 35.30)" dy="1" text-anchor="end" fill="#d845a8">ND6</text>
<text x="124.34" y="37.54" transform="rotate(-77.0 124.34 37.54)" dy="1" fill="#ee4f2c">tRNA-Arg</text>
<text x="127.00" y="38.20" transform="rotate(-75.2 127.00 38.20)" dy="1" fill="#d845a8">ND1</text>
<text x="129.64" y="38.94" transform="rotate(-73.4 129.64 38.94)" dy="1" fill="#ee4f2c">tRNA-Asp</text>
<text x="132.26" y="39.76" transform="rotate(-71.6 132.26 39.76)" dy="1" fill="#ee4f2c">tRNA-Lys</text>
<text x="134.84" y="40.67" transform="rotate(-69.8 134.84 40.67)" dy="1" fill="#ee4f2c">tRNA-Glu</text>
<text x="137.40" y="41.66" transform="rotate(-68.0 137.40 41.66)" dy="1" fill="#d845a8">CYTB</text>
<text x="142.28" y="43.80" transform="rotate(-64.5 142.28 43.80)" dy="1" fill="#d845a8">CYTB</text>
<text x="156.01" y="51.97" transform="rotate(-54.0 156.01 51.97)" dy="1" fill="#ee4f2c">tRNA-Thr</text>
<text x="158.45" y="53.81" transform="rotate(-52.0 158.45 53.81)" dy="1" fill="#ee4f2c">tRNA-Pro</text>
<text x="168.03" y="62.51" transform="rotate(-43.5 168.03 62.51)" dy="1" fill="#ee4f2c">tRNA-Phe</text>
<text x="170.08" y="64.75" transform="rotate(-41.5 170.08 64.75)" dy="1" fill="#7b3ff2">12S rRNA</text>
<text x="181.42" y="80.94" transform="rotate(-28.5 181.42 80.94)" dy="1" fill="#ee4f2c">tRNA-Val</text>
<text x="182.83" y="83.65" transform="rotate(-26.5 182.83 83.65)" dy="1" fill="#7b3ff2">16S rRNA</text>
<text x="187.87" y="96.06" transform="rotate(-17.7 187.87 96.06)" dy="1" fill="#d6337f">D-loop</text>
<text x="190.93" y="136.26" transform="rotate(9.0 190.93 136.26)" dy="1" fill="#ee4f2c">tRNA-Phe</text>
<text x="190.40" y="139.26" transform="rotate(11.0 190.40 139.26)" dy="1" fill="#ee4f2c">tRNA-Gly</text>
<text x="189.76" y="142.24" transform="rotate(13.0 189.76 142.24)" dy="1" fill="#ee4f2c">tRNA-Asn</text>
<text x="189.03" y="145.19" transform="rotate(15.0 189.03 145.19)" dy="1" fill="#ee4f2c">tRNA-Ala</text>
<text x="188.19" y="148.12" transform="rotate(17.0 188.19 148.12)" dy="1" fill="#ee4f2c">tRNA-Leu</text>
<text x="187.24" y="151.02" transform="rotate(19.0 187.24 151.02)" dy="1" fill="#ee4f2c">tRNA-Ile</text>
<text x="186.20" y="153.89" transform="rotate(21.0 186.20 153.89)" dy="1" fill="#d845a8">ATP6</text>
<text x="185.06" y="156.71" transform="rotate(23.0 185.06 156.71)" dy="1" fill="#d845a8">ND1</text>
<text x="181.05" y="164.92" transform="rotate(29.0 181.05 164.92)" dy="1" fill="#d845a8">ATP6</text>
<text x="174.88" y="174.53" transform="rotate(36.5 174.88 174.53)" dy="1" fill="#d845a8">ATP8</text>
<text x="172.40" y="177.72" transform="rotate(39.2 172.40 177.72)" dy="1" fill="#ee4f2c">tRNA-Lys</text>
<text x="169.78" y="180.79" transform="rotate(41.8 169.78 180.79)" dy="1" fill="#d845a8">COX2</text>
<text x="164.79" y="185.93" transform="rotate(46.5 164.79 185.93)" dy="1" fill="#ee4f2c">tRNA-Leu</text>
<text x="162.32" y="188.19" transform="rotate(48.7 162.32 188.19)" dy="1" fill="#d845a8">COX1</text>
<text x="148.35" y="198.20" transform="rotate(60.0 148.35 198.20)" dy="1" fill="#ee4f2c">tRNA-Tyr</text>
<text x="145.01" y="200.04" transform="rotate(62.5 145.01 200.04)" dy="1" fill="#ee4f2c">tRNA-Cys</text>
<text x="141.59" y="201.72" transform="rotate(65.0 141.59 201.72)" dy="1" fill="#ee4f2c">tRNA-Asn</text>
<text x="138.11" y="203.25" transform="rotate(67.5 138.11 203.25)" dy="1" fill="#d845a8">ND2</text>
<text x="126.56" y="207.12" transform="rotate(75.5 126.56 207.12)" dy="1" fill="#ee4f2c">tRNA-Phe</text>
<text x="123.22" y="207.91" transform="rotate(77.8 123.22 207.91)" dy="1" fill="#ee4f2c">tRNA-Phe</text>
<text x="119.86" y="208.57" transform="rotate(80.0 119.86 208.57)" dy="1" fill="#ee4f2c">tRNA-Thr</text>
<text x="104.24" y="209.90" transform="rotate(270.3 104.24 209.90)" dy="1" text-anchor="end" fill="#7b3ff2">16S rRNA</text>
<text x="91.19" y="208.85" transform="rotate(278.9 91.19 208.85)" dy="1" text-anchor="end" fill="#ee4f2c">tRNA-Val</text>
<text x="69.89" y="202.66" transform="rotate(293.5 69.89 202.66)" dy="1" text-anchor="end" fill="#ee4f2c">tRNA-Phe-like</text>
<text x="66.70" y="201.20" transform="rotate(295.8 66.70 201.20)" dy="1" text-anchor="end" fill="#d845a8">CYTB</text>
<text x="56.52" y="195.40" transform="rotate(303.5 56.52 195.40)" dy="1" text-anchor="end" fill="#ee4f2c">tRNA-Ser</text>
<text x="54.63" y="194.11" transform="rotate(305.0 54.63 194.11)" dy="1" text-anchor="end" fill="#ee4f2c">tRNA-Phe</text>
<text x="52.77" y="192.78" transform="rotate(306.5 52.77 192.78)" dy="1" text-anchor="end" fill="#d845a8">COX3</text>
<text x="40.85" y="182.14" transform="rotate(317.0 40.85 182.14)" dy="1" text-anchor="end" fill="#d845a8">ND3</text>
<text x="37.82" y="178.72" transform="rotate(320.0 37.82 178.72)" dy="1" text-anchor="end" fill="#ee4f2c">tRNA-Arg</text>
<text x="34.98" y="175.14" transform="rotate(323.0 34.98 175.14)" dy="1" text-anchor="end" fill="#ee4f2c">tRNA-Gly</text>
<text x="32.33" y="171.42" transform="rotate(326.0 32.33 171.42)" dy="1" text-anchor="end" fill="#d845a8">ND4L</text>
<text x="29.87" y="167.56" transform="rotate(329.0 29.87 167.56)" dy="1" text-anchor="end" fill="#d845a8">ND4</text>
<text x="21.04" y="147.54" transform="rotate(343.4 21.04 147.54)" dy="1" text-anchor="end" fill="#ee4f2c">tRNA-His</text>
</g>
<path d="M21.01 121.14L18.21 121.09M21.08 118.95L18.28 118.83M21.20 116.76L18.41 116.57M21.39 114.58L18.60 114.31M22.03 109.51L19.26 109.07M22.68 105.91L19.94 105.35M23.49 102.35L20.77 101.67M24.45 98.83L21.76 98.03M34.11 77.63L31.75 76.12M36.14 74.59L33.84 72.99M41.53 67.69L39.42 65.85M43.74 65.25L41.70 63.33M46.03 62.90L44.07 60.90M53.52 56.37L51.80 54.16M59.73 52.01L58.22 49.65M61.90 50.67L60.47 48.26M64.12 49.39L62.76 46.95M66.38 48.19L65.09 45.70M68.67 47.05L67.46 44.53M70.99 45.99L69.86 43.43M73.35 44.99L72.30 42.40M75.73 44.07L74.76 41.45M78.14 43.23L77.25 40.57M101.49 38.96L101.38 36.16M104.12 38.90L104.10 36.10M123.53 41.05L124.16 38.32M126.08 41.68L126.80 38.97M128.61 42.39L129.41 39.71M131.12 43.18L132.00 40.52M133.60 44.05L134.57 41.42M136.05 44.99L137.10 42.40M140.73 47.05L141.94 44.53M153.90 54.89L155.54 52.62M156.23 56.64L157.95 54.44M165.41 64.98L167.44 63.06M167.39 67.14L169.48 65.28M178.26 82.66L180.72 81.33M179.61 85.25L182.11 84.00M184.44 97.15L187.11 96.30M187.37 135.69L190.14 136.13M186.86 138.57L189.61 139.10M186.25 141.43L188.98 142.06M185.55 144.26L188.25 144.99M184.74 147.07L187.42 147.89M183.84 149.85L186.49 150.76M182.84 152.60L185.45 153.60M181.75 155.30L184.32 156.40M177.91 163.18L180.35 164.54M171.98 172.39L174.23 174.05M169.61 175.44L171.78 177.21M167.10 178.39L169.18 180.26M162.32 183.31L164.24 185.34M159.94 185.48L161.79 187.58M146.55 195.09L147.95 197.51M143.35 196.84L144.64 199.33M140.07 198.46L141.26 201.00M136.73 199.93L137.80 202.52M125.66 203.63L126.36 206.34M122.46 204.39L123.05 207.13M119.23 205.03L119.72 207.79M104.26 206.30L104.25 209.10M91.75 205.29L91.32 208.06M71.32 199.36L70.21 201.93M68.27 197.96L67.05 200.48M58.50 192.40L56.96 194.73M56.69 191.16L55.09 193.46M54.91 189.88L53.25 192.13M43.49 179.68L41.44 181.59M40.58 176.40L38.44 178.20M37.85 172.97L35.62 174.66M35.31 169.40L32.99 170.97M32.96 165.71L30.56 167.15M24.49 146.51L21.81 147.31" stroke="#111" stroke-width="0.5" fill="none"/>
<text x="106.2" y="162.4" font-size="14.0" font-weight="700" text-anchor="middle" fill="#111">chr5MT1</text>
<text x="102.0" y="73.2" font-size="4.3" fill="#444" text-anchor="middle" transform="rotate(0 102.0 73.2)">chrM</text>
</g>
<g id="circos-chrXMT5">
<g fill="#8c8c8c" fill-opacity="0.44" stroke="#9a9a9a" stroke-opacity="0.5" stroke-width="0.25">
<path d="M277.62 108.38A55.19 55.19 0 0 1 352.08 69.63Q333.97 125.05 276.48 115.32A55.19 55.19 0 0 0 326.59 175.78Q331.40 120.80 277.62 108.38Z"/>
<path d="M352.08 69.63A55.19 55.19 0 0 1 386.18 114.07Q314.87 121.81 386.59 120.80A55.19 55.19 0 0 1 364.62 164.88Q340.70 119.58 352.08 69.63Z"/>
</g>
<path d="M372.42 83.87A55.19 55.19 0 0 1 386.18 114.07Q314.87 121.81 386.59 120.80A55.19 55.19 0 0 1 376.61 152.46Q313.77 121.88 372.42 83.87Z" fill="none" stroke="#aaa" stroke-width="0.4"/>
<path d="M248.09 101.57A85.50 85.50 0 0 1 416.27 110.38L412.61 110.83A81.82 81.82 0 0 0 251.68 102.40Z" fill="#ee1a60" stroke="none"/>
<path d="M248.28 101.61A85.30 85.30 0 0 1 249.82 95.86L252.97 96.82A82.02 82.02 0 0 0 251.48 102.35ZM252.31 88.84A85.30 85.30 0 0 1 252.76 87.74L255.79 89.02A82.02 82.02 0 0 0 255.35 90.08ZM261.95 71.26A85.30 85.30 0 0 1 262.65 70.30L265.30 72.24A82.02 82.02 0 0 0 264.63 73.17ZM274.32 57.41A85.30 85.30 0 0 1 274.99 56.81L277.16 59.28A82.02 82.02 0 0 0 276.52 59.85ZM284.94 49.26A85.30 85.30 0 0 1 285.57 48.86L287.33 51.63A82.02 82.02 0 0 0 286.73 52.01ZM319.53 36.33A85.30 85.30 0 0 1 320.41 36.21L320.84 39.47A82.02 82.02 0 0 0 319.99 39.58ZM327.68 35.58A85.30 85.30 0 0 1 328.42 35.55L328.54 38.83A82.02 82.02 0 0 0 327.82 38.86ZM359.17 40.14A85.30 85.30 0 0 1 360.30 40.54L359.18 43.63A82.02 82.02 0 0 0 358.10 43.25ZM362.66 41.43A85.30 85.30 0 0 1 363.36 41.71L362.12 44.75A82.02 82.02 0 0 0 361.46 44.49ZM394.29 63.17A85.30 85.30 0 0 1 395.39 64.39L392.92 66.56A82.02 82.02 0 0 0 391.87 65.39ZM399.08 68.87A85.30 85.30 0 0 1 399.53 69.46L396.90 71.44A82.02 82.02 0 0 0 396.47 70.87ZM405.28 78.15A85.30 85.30 0 0 1 405.86 79.18L402.99 80.79A82.02 82.02 0 0 0 402.43 79.79ZM407.74 82.74A85.30 85.30 0 0 1 408.39 84.08L405.43 85.49A82.02 82.02 0 0 0 404.80 84.20ZM410.21 88.16A85.30 85.30 0 0 1 410.60 89.12L407.55 90.34A82.02 82.02 0 0 0 407.17 89.41ZM412.06 93.03A85.30 85.30 0 0 1 412.53 94.44L409.40 95.46A82.02 82.02 0 0 0 408.95 94.10ZM413.60 98.00A85.30 85.30 0 0 1 413.99 99.44L410.81 100.26A82.02 82.02 0 0 0 410.43 98.88ZM414.52 101.61A85.30 85.30 0 0 1 415.53 106.72L412.29 107.26A82.02 82.02 0 0 0 411.32 102.35Z" fill="#ffffff"/>
<path d="M248.09 101.57A85.50 85.50 0 0 1 416.27 110.38L412.61 110.83A81.82 81.82 0 0 0 251.68 102.40Z" fill="none" stroke="#000" stroke-width="0.8"/>
<path d="M252.93 102.68A80.54 80.54 0 0 1 411.34 110.98M256.27 103.45A77.11 77.11 0 0 1 407.93 111.40M257.57 103.75A75.78 75.78 0 0 1 406.61 111.57M252.93 102.68L264.15 105.27M411.34 110.98L399.90 112.39M264.15 105.27A69.02 69.02 0 0 1 399.90 112.39" fill="none" stroke="#000" stroke-width="0.72"/>
<path d="M270.84 106.82A62.16 62.16 0 0 1 393.09 113.22L386.18 114.07A55.19 55.19 0 0 0 277.62 108.38Z" fill="#c4125f"/>
<path d="M270.84 106.82A62.16 62.16 0 0 1 271.34 104.80L278.07 106.59A55.19 55.19 0 0 0 277.62 108.38ZM275.44 93.75A62.16 62.16 0 0 1 276.62 91.43L282.76 94.72A55.19 55.19 0 0 0 281.71 96.78ZM287.82 76.48A62.16 62.16 0 0 1 288.44 75.88L293.25 80.91A55.19 55.19 0 0 0 292.70 81.45ZM293.03 71.90A62.16 62.16 0 0 1 293.85 71.26L298.06 76.81A55.19 55.19 0 0 0 297.33 77.38ZM299.76 67.30A62.16 62.16 0 0 1 300.36 66.95L303.84 72.98A55.19 55.19 0 0 0 303.30 73.29ZM311.08 62.06A62.16 62.16 0 0 1 311.90 61.78L314.09 68.39A55.19 55.19 0 0 0 313.36 68.64ZM313.73 61.21A62.16 62.16 0 0 1 317.76 60.16L319.28 66.95A55.19 55.19 0 0 0 315.71 67.88ZM355.05 63.32A62.16 62.16 0 0 1 355.85 63.65L353.11 70.05A55.19 55.19 0 0 0 352.40 69.76ZM371.19 73.05A62.16 62.16 0 0 1 371.85 73.61L367.32 78.89A55.19 55.19 0 0 0 366.73 78.40Z" fill="#e64000"/>
<path d="M379.15 81.01A62.16 62.16 0 0 1 391.11 103.54L384.42 105.48A55.19 55.19 0 0 0 373.80 85.47Z" fill="#6a00f4"/>
<path d="M387.77 94.61A62.16 62.16 0 0 1 388.06 95.24L381.71 98.10A55.19 55.19 0 0 0 381.45 97.54Z" fill="#e0003c"/>
<path d="M270.84 106.82A62.16 62.16 0 0 1 393.09 113.22L386.18 114.07A55.19 55.19 0 0 0 277.62 108.38Z" fill="none" stroke="#2a0a14" stroke-width="0.45"/>
<path d="M270.40 106.72A62.61 62.61 0 0 1 393.54 113.17M270.54 106.75L267.84 106.13M273.80 96.64L271.25 95.57M278.73 87.23L276.39 85.74M285.18 78.79L283.13 76.93M292.97 71.57L291.26 69.38M301.87 65.77L300.56 63.32M311.62 61.56L310.74 58.93M321.94 59.06L321.53 56.32M332.54 58.35L332.59 55.58M343.11 59.45L343.63 56.73M353.34 62.32L354.31 59.73M362.93 66.88L364.33 64.49M371.61 73.01L373.39 70.89M379.12 80.51L381.24 78.72M385.26 89.18L387.65 87.78M389.84 98.77L392.43 97.79M392.73 108.99L395.45 108.46" fill="none" stroke="#ff2a1a" stroke-width="0.7"/>
<g font-size="2.4" fill="#666" text-anchor="middle"><text x="266.67" y="105.86" transform="rotate(283.0 266.67 105.86)" dy="0.8">0</text><text x="270.14" y="95.10" transform="rotate(292.8 270.14 95.10)" dy="0.8">1</text><text x="275.38" y="85.10" transform="rotate(302.5 275.38 85.10)" dy="0.8">2</text><text x="282.24" y="76.12" transform="rotate(312.3 282.24 76.12)" dy="0.8">3</text><text x="290.52" y="68.44" transform="rotate(322.0 290.52 68.44)" dy="0.8">4</text><text x="299.99" y="62.27" transform="rotate(331.8 299.99 62.27)" dy="0.8">5</text><text x="310.36" y="57.79" transform="rotate(341.5 310.36 57.79)" dy="0.8">6</text><text x="321.34" y="55.14" transform="rotate(351.3 321.34 55.14)" dy="0.8">7</text><text x="332.62" y="54.38" transform="rotate(361.0 332.62 54.38)" dy="0.8">8</text><text x="343.85" y="55.55" transform="rotate(370.8 343.85 55.55)" dy="0.8">9</text><text x="354.73" y="58.60" transform="rotate(380.6 354.73 58.60)" dy="0.8">10</text><text x="364.93" y="63.46" transform="rotate(390.3 364.93 63.46)" dy="0.8">11</text><text x="374.16" y="69.97" transform="rotate(400.1 374.16 69.97)" dy="0.8">12</text><text x="382.16" y="77.95" transform="rotate(409.8 382.16 77.95)" dy="0.8">13</text><text x="388.69" y="87.17" transform="rotate(419.6 388.69 87.17)" dy="0.8">14</text><text x="393.56" y="97.36" transform="rotate(429.3 393.56 97.36)" dy="0.8">15</text><text x="396.63" y="108.24" transform="rotate(439.1 396.63 108.24)" dy="0.8">16</text></g>
<path d="M416.90 120.80A85.50 85.50 0 1 1 246.32 112.31L249.99 112.67A81.82 81.82 0 1 0 413.22 120.80Z" fill="#ffffff" stroke="none"/>
<path d="M416.70 120.80A85.30 85.30 0 0 1 378.36 192.02L376.55 189.27A82.02 82.02 0 0 0 413.42 120.80ZM326.94 205.99A85.30 85.30 0 0 1 246.52 112.33L249.79 112.65A82.02 82.02 0 0 0 327.11 202.71Z" fill="#ee1a60"/>
<path d="M416.62 124.52A85.30 85.30 0 0 1 416.56 125.71L413.28 125.52A82.02 82.02 0 0 0 413.34 124.38ZM416.38 128.23A85.30 85.30 0 0 1 416.07 131.20L412.81 130.80A82.02 82.02 0 0 0 413.11 127.95ZM415.65 134.14A85.30 85.30 0 0 1 415.51 135.03L412.27 134.48A82.02 82.02 0 0 0 412.41 133.63ZM414.84 138.54A85.30 85.30 0 0 1 414.45 140.28L411.25 139.53A82.02 82.02 0 0 0 411.63 137.85ZM413.40 144.31A85.30 85.30 0 0 1 413.15 145.17L410.00 144.23A82.02 82.02 0 0 0 410.24 143.41ZM411.56 149.98A85.30 85.30 0 0 1 411.14 151.09L408.07 149.93A82.02 82.02 0 0 0 408.47 148.85ZM409.33 155.50A85.30 85.30 0 0 1 409.02 156.17L406.03 154.81A82.02 82.02 0 0 0 406.33 154.16ZM402.53 167.88A85.30 85.30 0 0 1 402.12 168.50L399.40 166.66A82.02 82.02 0 0 0 399.79 166.07ZM398.62 173.32A85.30 85.30 0 0 1 398.16 173.90L395.59 171.86A82.02 82.02 0 0 0 396.03 171.30ZM322.48 205.64A85.30 85.30 0 0 1 320.71 205.43L321.12 202.17A82.02 82.02 0 0 0 322.83 202.37ZM317.32 204.93A85.30 85.30 0 0 1 316.15 204.73L316.74 201.50A82.02 82.02 0 0 0 317.86 201.69ZM295.35 198.11A85.30 85.30 0 0 1 294.68 197.79L296.09 194.83A82.02 82.02 0 0 0 296.74 195.13ZM274.32 184.19A85.30 85.30 0 0 1 273.77 183.69L275.99 181.27A82.02 82.02 0 0 0 276.52 181.75ZM259.06 166.00A85.30 85.30 0 0 1 258.67 165.37L261.47 163.65A82.02 82.02 0 0 0 261.85 164.26ZM252.88 154.13A85.30 85.30 0 0 1 252.53 153.31L255.57 152.05A82.02 82.02 0 0 0 255.90 152.85ZM248.63 141.44A85.30 85.30 0 0 1 248.45 140.71L251.65 139.95A82.02 82.02 0 0 0 251.82 140.64ZM246.93 132.67A85.30 85.30 0 0 1 246.83 131.93L250.08 131.51A82.02 82.02 0 0 0 250.18 132.21ZM246.15 123.78A85.30 85.30 0 0 1 246.10 121.54L249.39 121.52A82.02 82.02 0 0 0 249.43 123.66Z" fill="#ffffff"/>
<path d="M416.90 120.80A85.50 85.50 0 1 1 246.32 112.31L249.99 112.67A81.82 81.82 0 1 0 413.22 120.80Z" fill="none" stroke="#000" stroke-width="0.8"/>
<path d="M376.44 187.32A80.33 80.33 0 0 1 327.20 201.02L327.35 198.01A77.31 77.31 0 0 0 374.74 184.82Z" fill="#4caf50"/>
<path d="M411.94 120.80A80.54 80.54 0 1 1 251.26 112.80M408.51 120.80A77.11 77.11 0 1 1 254.67 113.14M407.18 120.80A75.78 75.78 0 1 1 256.00 113.27M411.94 120.80L400.42 120.80M251.26 112.80L262.72 113.95M400.42 120.80A69.02 69.02 0 1 1 262.72 113.95" fill="none" stroke="#000" stroke-width="0.72"/>
<path d="M399.90 152.74A75.58 75.58 0 0 1 397.11 158.13L391.67 155.04A69.32 69.32 0 0 0 394.22 150.09Z" fill="#ff0000"/>
<path d="M393.56 120.80A62.16 62.16 0 1 1 269.55 114.63L276.48 115.32A55.19 55.19 0 1 0 386.59 120.80Z" fill="#cccccc"/>
<path d="M390.84 138.97A62.16 62.16 0 0 1 390.51 140.01L383.89 137.86A55.19 55.19 0 0 0 384.18 136.94ZM385.01 152.25A62.16 62.16 0 0 1 384.45 153.18L378.51 149.56A55.19 55.19 0 0 0 379.01 148.73ZM327.82 182.85A62.16 62.16 0 0 1 325.98 182.72L326.59 175.78A55.19 55.19 0 0 0 328.22 175.90ZM309.12 178.83A62.16 62.16 0 0 1 308.12 178.43L310.72 171.97A55.19 55.19 0 0 0 311.62 172.33ZM289.81 166.99A62.16 62.16 0 0 1 285.72 162.95L290.84 158.23A55.19 55.19 0 0 0 294.47 161.82ZM277.04 150.93A62.16 62.16 0 0 1 276.52 149.98L282.67 146.71A55.19 55.19 0 0 0 283.13 147.56ZM271.80 138.45A62.16 62.16 0 0 1 271.50 137.41L278.21 135.55A55.19 55.19 0 0 0 278.48 136.48Z" fill="#e64000"/>
<path d="M376.49 163.59A62.16 62.16 0 0 1 368.81 170.44L364.62 164.88A55.19 55.19 0 0 0 371.44 158.79ZM325.98 182.72A62.16 62.16 0 0 1 309.12 178.83L311.62 172.33A55.19 55.19 0 0 0 326.59 175.78ZM285.72 162.95A62.16 62.16 0 0 1 269.55 114.63L276.48 115.32A55.19 55.19 0 0 0 290.84 158.23Z" fill="#c4125f"/>
<path d="M368.81 170.44A62.16 62.16 0 0 1 327.82 182.85L328.22 175.90A55.19 55.19 0 0 0 364.62 164.88Z" fill="#eeeeee"/>
<path d="M269.29 123.29A62.16 62.16 0 0 1 269.27 122.54L276.23 122.34A55.19 55.19 0 0 0 276.25 123.02Z" fill="#e9a0b8"/>
<path d="M393.56 120.80A62.16 62.16 0 1 1 269.55 114.63L276.48 115.32A55.19 55.19 0 1 0 386.59 120.80Z" fill="none" stroke="#111" stroke-width="0.6"/>
<path d="M394.01 120.80A62.61 62.61 0 1 1 269.10 114.58M393.86 120.80L396.63 120.80M392.97 131.29L395.70 131.76M390.33 141.49L392.95 142.41M386.02 151.09L388.44 152.44M380.15 159.84L382.32 161.57M372.90 167.48L374.74 169.55M364.47 173.78L365.94 176.14M355.10 178.59L356.15 181.15M345.05 181.75L345.66 184.45M334.62 183.17L334.76 185.94M324.09 182.83L323.77 185.58M313.78 180.72L312.99 183.38M303.96 176.91L302.74 179.40M294.92 171.50L293.30 173.75M286.92 164.65L284.95 166.60M280.19 156.55L277.92 158.14M274.91 147.44L272.40 148.62M271.24 137.57L268.57 138.32M269.27 127.23L266.52 127.51M269.08 116.70L266.31 116.52" fill="none" stroke="#ff2a1a" stroke-width="0.7"/>
<g font-size="2.4" fill="#666" text-anchor="middle"><text x="397.83" y="120.80" transform="rotate(270.0 397.83 120.80)" dy="0.8">0</text><text x="396.88" y="131.96" transform="rotate(279.7 396.88 131.96)" dy="0.8">1</text><text x="394.08" y="142.80" transform="rotate(289.3 394.08 142.80)" dy="0.8">2</text><text x="389.49" y="153.02" transform="rotate(299.0 389.49 153.02)" dy="0.8">3</text><text x="383.25" y="162.32" transform="rotate(308.7 383.25 162.32)" dy="0.8">4</text><text x="375.54" y="170.44" transform="rotate(318.4 375.54 170.44)" dy="0.8">5</text><text x="366.57" y="177.15" transform="rotate(328.0 366.57 177.15)" dy="0.8">6</text><text x="356.60" y="182.26" transform="rotate(337.7 356.60 182.26)" dy="0.8">7</text><text x="345.92" y="185.62" transform="rotate(347.4 345.92 185.62)" dy="0.8">8</text><text x="334.82" y="187.14" transform="rotate(357.0 334.82 187.14)" dy="0.8">9</text><text x="323.63" y="186.77" transform="rotate(366.7 323.63 186.77)" dy="0.8">10</text><text x="312.65" y="184.53" transform="rotate(376.4 312.65 184.53)" dy="0.8">11</text><text x="302.21" y="180.47" transform="rotate(386.1 302.21 180.47)" dy="0.8">12</text><text x="292.60" y="174.72" transform="rotate(395.7 292.60 174.72)" dy="0.8">13</text><text x="284.10" y="167.44" transform="rotate(405.4 284.10 167.44)" dy="0.8">14</text><text x="276.93" y="158.83" transform="rotate(415.1 276.93 158.83)" dy="0.8">15</text><text x="271.32" y="149.14" transform="rotate(424.8 271.32 149.14)" dy="0.8">16</text><text x="267.41" y="138.64" transform="rotate(434.4 267.41 138.64)" dy="0.8">17</text><text x="265.32" y="127.64" transform="rotate(444.1 265.32 127.64)" dy="0.8">18</text><text x="265.11" y="116.44" transform="rotate(273.8 265.11 116.44)" dy="0.8">19</text></g>
<g font-size="3.79">
<text x="244.75" y="99.20" transform="rotate(374.0 244.75 99.20)" dy="1" text-anchor="end" fill="#ee4f2c">tRNA-Val</text>
<text x="245.56" y="96.18" transform="rotate(376.0 245.56 96.18)" dy="1" text-anchor="end" fill="#ee4f2c">tRNA-Leu</text>
<text x="246.47" y="93.20" transform="rotate(378.0 246.47 93.20)" dy="1" text-anchor="end" fill="#ee4f2c">tRNA-Leu</text>
<text x="247.48" y="90.26" transform="rotate(380.0 247.48 90.26)" dy="1" text-anchor="end" fill="#d845a8">ATP6</text>
<text x="251.13" y="81.65" transform="rotate(386.0 251.13 81.65)" dy="1" text-anchor="end" fill="#ee4f2c">tRNA-Ser</text>
<text x="252.79" y="78.42" transform="rotate(388.3 252.79 78.42)" dy="1" text-anchor="end" fill="#ee4f2c">tRNA-Cys</text>
<text x="254.59" y="75.25" transform="rotate(390.7 254.59 75.25)" dy="1" text-anchor="end" fill="#ee4f2c">tRNA-Tyr</text>
<text x="256.50" y="72.16" transform="rotate(393.0 256.50 72.16)" dy="1" text-anchor="end" fill="#d845a8">COX1</text>
<text x="267.70" y="58.21" transform="rotate(404.5 267.70 58.21)" dy="1" text-anchor="end" fill="#ee4f2c">tRNA-Met</text>
<text x="270.27" y="55.70" transform="rotate(406.8 270.27 55.70)" dy="1" text-anchor="end" fill="#d845a8">ND2</text>
<text x="274.96" y="51.59" transform="rotate(410.8 274.96 51.59)" dy="1" text-anchor="end" fill="#ee4f2c">tRNA-Lys</text>
<text x="277.53" y="49.57" transform="rotate(412.9 277.53 49.57)" dy="1" text-anchor="end" fill="#d845a8">ATP8</text>
<text x="280.18" y="47.65" transform="rotate(415.0 280.18 47.65)" dy="1" text-anchor="end" fill="#d845a8">ATP6</text>
<text x="288.10" y="42.69" transform="rotate(421.0 288.10 42.69)" dy="1" text-anchor="end" fill="#d845a8">COX3</text>
<text x="295.79" y="38.90" transform="rotate(426.5 295.79 38.90)" dy="1" text-anchor="end" fill="#ee4f2c">tRNA-Met</text>
<text x="298.03" y="37.97" transform="rotate(428.1 298.03 37.97)" dy="1" text-anchor="end" fill="#ee4f2c">tRNA-Pro</text>
<text x="300.29" y="37.09" transform="rotate(429.6 300.29 37.09)" dy="1" text-anchor="end" fill="#d845a8">ATP8</text>
<text x="302.57" y="36.28" transform="rotate(431.2 302.57 36.28)" dy="1" text-anchor="end" fill="#ee4f2c">tRNA-Asn</text>
<text x="304.88" y="35.53" transform="rotate(432.7 304.88 35.53)" dy="1" text-anchor="end" fill="#d845a8">ND4</text>
<text x="307.20" y="34.84" transform="rotate(434.3 307.20 34.84)" dy="1" text-anchor="end" fill="#ee4f2c">tRNA-Trp</text>
<text x="309.54" y="34.21" transform="rotate(435.8 309.54 34.21)" dy="1" text-anchor="end" fill="#ee4f2c">tRNA-Glu</text>
<text x="311.90" y="33.65" transform="rotate(437.4 311.90 33.65)" dy="1" text-anchor="end" fill="#ee4f2c">tRNA-Val</text>
<text x="314.28" y="33.15" transform="rotate(438.9 314.28 33.15)" dy="1" text-anchor="end" fill="#ee4f2c">tRNA-Leu</text>
<text x="316.66" y="32.72" transform="rotate(440.5 316.66 32.72)" dy="1" text-anchor="end" fill="#d845a8">ND5</text>
<text x="339.18" y="31.84" transform="rotate(-85.0 339.18 31.84)" dy="1" fill="#ee4f2c">tRNA-Glu</text>
<text x="341.97" y="32.12" transform="rotate(-83.2 341.97 32.12)" dy="1" fill="#d845a8">ND6</text>
<text x="361.21" y="36.62" transform="rotate(-70.5 361.21 36.62)" dy="1" fill="#d845a8">COX1</text>
<text x="363.89" y="37.62" transform="rotate(-68.7 363.89 37.62)" dy="1" fill="#ee4f2c">tRNA-Lys</text>
<text x="366.53" y="38.70" transform="rotate(-66.8 366.53 38.70)" dy="1" fill="#ee4f2c">tRNA-Thr</text>
<text x="369.14" y="39.86" transform="rotate(-65.0 369.14 39.86)" dy="1" fill="#ee4f2c">tRNA-Asp</text>
<text x="375.65" y="43.23" transform="rotate(-60.3 375.65 43.23)" dy="1" fill="#d845a8">CYTB</text>
<text x="388.20" y="51.89" transform="rotate(-50.5 388.20 51.89)" dy="1" fill="#ee4f2c">tRNA-Thr</text>
<text x="390.57" y="53.92" transform="rotate(-48.5 390.57 53.92)" dy="1" fill="#ee4f2c">tRNA-Pro</text>
<text x="399.61" y="63.16" transform="rotate(-40.2 399.61 63.16)" dy="1" fill="#ee4f2c">tRNA-Phe</text>
<text x="401.58" y="65.57" transform="rotate(-38.2 401.58 65.57)" dy="1" fill="#7b3ff2">12S rRNA</text>
<text x="411.18" y="80.67" transform="rotate(-26.7 411.18 80.67)" dy="1" fill="#ee4f2c">tRNA-Val</text>
<text x="412.53" y="83.48" transform="rotate(-24.7 412.53 83.48)" dy="1" fill="#7b3ff2">16S rRNA</text>
<text x="417.07" y="95.59" transform="rotate(-16.4 417.07 95.59)" dy="1" fill="#d6337f">D-loop</text>
<text x="416.57" y="147.65" transform="rotate(17.5 416.57 147.65)" dy="1" fill="#ee4f2c">tRNA-Val</text>
<text x="408.03" y="166.66" transform="rotate(30.9 408.03 166.66)" dy="1" fill="#ee4f2c">tRNA-Leu</text>
<text x="403.65" y="173.29" transform="rotate(36.0 403.65 173.29)" dy="1" fill="#ee4f2c">tRNA-Thr</text>
<text x="400.80" y="177.00" transform="rotate(39.0 400.80 177.00)" dy="1" fill="#d845a8">CYTB</text>
<text x="380.30" y="195.53" transform="rotate(56.8 380.30 195.53)" dy="1" fill="#4caf50">L1MC/D</text>
<text x="329.06" y="210.07" transform="rotate(271.5 329.06 210.07)" dy="1" text-anchor="end" fill="#ee4f2c">tRNA-His</text>
<text x="325.95" y="209.94" transform="rotate(273.5 325.95 209.94)" dy="1" text-anchor="end" fill="#ee4f2c">tRNA-Ser</text>
<text x="322.84" y="209.69" transform="rotate(275.5 322.84 209.69)" dy="1" text-anchor="end" fill="#d845a8">ND4L</text>
<text x="318.20" y="209.12" transform="rotate(278.5 318.20 209.12)" dy="1" text-anchor="end" fill="#d845a8">ND5</text>
<text x="298.96" y="204.00" transform="rotate(291.3 298.96 204.00)" dy="1" text-anchor="end" fill="#ee4f2c">tRNA-Leu-like</text>
<text x="278.91" y="193.05" transform="rotate(306.0 278.91 193.05)" dy="1" text-anchor="end" fill="#ee4f2c">tRNA-Gly</text>
<text x="276.42" y="191.17" transform="rotate(308.0 276.42 191.17)" dy="1" text-anchor="end" fill="#ee4f2c">tRNA-His</text>
<text x="274.00" y="189.21" transform="rotate(310.0 274.00 189.21)" dy="1" text-anchor="end" fill="#ee4f2c">tRNA-Asn</text>
<text x="271.64" y="187.17" transform="rotate(312.0 271.64 187.17)" dy="1" text-anchor="end" fill="#ee4f2c">tRNA-Val</text>
<text x="269.36" y="185.04" transform="rotate(314.0 269.36 185.04)" dy="1" text-anchor="end" fill="#d845a8">ND1</text>
<text x="267.16" y="182.84" transform="rotate(316.0 267.16 182.84)" dy="1" text-anchor="end" fill="#d845a8">ATP6</text>
<text x="265.03" y="180.56" transform="rotate(318.0 265.03 180.56)" dy="1" text-anchor="end" fill="#d845a8">ND3</text>
<text x="258.52" y="172.40" transform="rotate(324.7 258.52 172.40)" dy="1" text-anchor="end" fill="#d845a8">ATP6</text>
<text x="253.29" y="164.10" transform="rotate(331.0 253.29 164.10)" dy="1" text-anchor="end" fill="#d845a8">ATP8</text>
<text x="251.34" y="160.37" transform="rotate(333.7 251.34 160.37)" dy="1" text-anchor="end" fill="#ee4f2c">tRNA-Lys</text>
<text x="249.57" y="156.55" transform="rotate(336.4 249.57 156.55)" dy="1" text-anchor="end" fill="#d845a8">COX2</text>
<text x="247.48" y="151.34" transform="rotate(340.0 247.48 151.34)" dy="1" text-anchor="end" fill="#ee4f2c">tRNA-Asp</text>
<text x="246.32" y="147.95" transform="rotate(342.3 246.32 147.95)" dy="1" text-anchor="end" fill="#d845a8">COX1</text>
<text x="242.20" y="125.16" transform="rotate(357.2 242.20 125.16)" dy="1" text-anchor="end" fill="#ee4f2c">tRNA-Cys</text>
<text x="242.10" y="120.96" transform="rotate(359.9 242.10 120.96)" dy="1" text-anchor="end" fill="#ee4f2c">tRNA-Trp</text>
<text x="242.19" y="116.75" transform="rotate(362.6 242.19 116.75)" dy="1" text-anchor="end" fill="#d845a8">ND2</text>
</g>
<path d="M248.24 100.07L245.52 99.39M249.02 97.18L246.32 96.40M249.89 94.32L247.23 93.45M250.86 91.49L248.23 90.53M254.37 83.23L251.85 82.00M255.96 80.12L253.50 78.80M257.68 77.09L255.27 75.66M259.52 74.12L257.17 72.60M270.27 60.73L268.27 58.77M272.73 58.32L270.81 56.28M277.23 54.38L275.46 52.21M279.70 52.44L278.01 50.21M282.24 50.60L280.64 48.30M289.85 45.84L288.49 43.39M297.23 42.20L296.11 39.64M299.37 41.31L298.33 38.71M301.54 40.47L300.57 37.84M303.73 39.68L302.83 37.03M305.95 38.96L305.11 36.29M308.18 38.30L307.42 35.61M310.42 37.70L309.74 34.99M312.69 37.16L312.08 34.43M314.97 36.69L314.43 33.94M317.25 36.27L316.79 33.51M338.87 35.42L339.11 32.63M341.55 35.70L341.88 32.92M360.01 40.01L360.94 37.37M362.58 40.97L363.60 38.36M365.12 42.01L366.22 39.43M367.62 43.13L368.80 40.59M373.86 46.35L375.25 43.92M385.91 54.67L387.70 52.51M388.19 56.61L390.04 54.51M396.86 65.48L399.00 63.67M398.75 67.80L400.95 66.07M407.97 82.29L410.47 81.03M409.26 84.99L411.81 83.82M413.62 96.60L416.30 95.81M413.14 146.57L415.81 147.41M404.94 164.81L407.34 166.25M400.74 171.18L403.00 172.82M398.00 174.74L400.18 176.50M378.33 192.51L379.86 194.86M329.16 206.47L329.08 209.27M326.17 206.34L326.00 209.14M323.19 206.11L322.92 208.90M318.73 205.56L318.32 208.33M300.27 200.65L299.25 203.26M281.02 190.14L279.38 192.40M278.64 188.34L276.91 190.54M276.31 186.45L274.51 188.60M274.05 184.49L272.18 186.57M271.86 182.45L269.92 184.46M269.75 180.34L267.74 182.28M267.71 178.15L265.63 180.02M261.45 170.32L259.17 171.94M256.44 162.35L253.99 163.71M254.57 158.77L252.06 160.01M252.86 155.11L250.30 156.23M250.86 150.11L248.23 151.07M249.75 146.86L247.09 147.71M245.80 124.99L243.00 125.12M245.70 120.95L242.90 120.95M245.78 116.91L242.99 116.79" stroke="#111" stroke-width="0.5" fill="none"/>
<text x="333.5" y="165.1" font-size="14.0" font-weight="700" text-anchor="middle" fill="#111">chrXMT5</text>
<text x="334.5" y="70.8" font-size="4.3" fill="#444" text-anchor="middle" transform="rotate(0 334.5 70.8)">chrM</text>
</g>
<g id="circos-chr2MT5">
<g fill="#8c8c8c" fill-opacity="0.44" stroke="#9a9a9a" stroke-opacity="0.5" stroke-width="0.25">
<path d="M518.03 85.92A57.51 57.51 0 0 1 530.61 71.71Q566.80 116.40 622.60 130.31A57.51 57.51 0 0 0 624.31 116.90Q566.80 116.40 518.03 85.92Z"/>
<path d="M519.69 83.41A57.51 57.51 0 0 1 526.85 75.03Q566.80 116.40 623.25 127.37A57.51 57.51 0 0 0 624.23 119.41Q566.80 116.40 519.69 83.41Z"/>
<path d="M518.03 85.92A57.51 57.51 0 0 1 520.27 82.60Q566.80 116.40 514.26 93.01A57.51 57.51 0 0 0 512.76 96.73Q566.80 116.40 518.03 85.92Z"/>
<path d="M610.86 79.43A57.51 57.51 0 0 1 618.27 90.74Q566.80 116.40 514.26 93.01A57.51 57.51 0 0 0 511.25 101.51Q566.80 116.40 610.86 79.43Z"/>
<path d="M586.47 62.36A57.51 57.51 0 0 1 610.86 79.43Q566.80 116.40 509.72 109.39A57.51 57.51 0 0 0 509.85 124.40Q566.80 116.40 586.47 62.36Z"/>
<path d="M552.89 60.60A57.51 57.51 0 0 1 586.47 62.36Q566.80 116.40 509.85 124.40A57.51 57.51 0 0 0 525.43 156.35Q566.80 116.40 552.89 60.60Z"/>
<path d="M566.80 58.89A57.51 57.51 0 0 1 584.57 61.70Q566.80 116.40 509.32 118.41A57.51 57.51 0 0 0 512.10 134.17Q566.80 116.40 566.80 58.89Z"/>
<path d="M532.19 70.47A57.51 57.51 0 0 1 550.95 61.12Q566.80 116.40 530.61 161.09A57.51 57.51 0 0 0 542.49 168.52Q566.80 116.40 532.19 70.47Z"/>
<path d="M552.89 60.60A57.51 57.51 0 0 1 564.79 58.92Q566.80 116.40 543.41 168.94A57.51 57.51 0 0 0 557.80 173.20Q566.80 116.40 552.89 60.60Z"/>
</g>
<path d="M490.83 69.85A89.09 89.09 0 0 1 655.23 105.54L651.42 106.01A85.25 85.25 0 0 0 494.11 71.86Z" fill="#ee1a60" stroke="none"/>
<path d="M494.88 64.15A88.89 88.89 0 0 1 495.34 63.52L498.11 65.57A85.45 85.45 0 0 0 497.67 66.17ZM502.85 54.65A88.89 88.89 0 0 1 515.81 43.58L517.79 46.40A85.45 85.45 0 0 0 505.33 57.04ZM523.03 39.03A88.89 88.89 0 0 1 523.70 38.65L525.37 41.66A85.45 85.45 0 0 0 524.72 42.03ZM533.50 33.98A88.89 88.89 0 0 1 544.54 30.34L545.40 33.67A85.45 85.45 0 0 0 534.79 37.17ZM555.20 28.27A88.89 88.89 0 0 1 555.97 28.17L556.39 31.58A85.45 85.45 0 0 0 555.65 31.68ZM591.30 30.95A88.89 88.89 0 0 1 592.05 31.17L591.07 34.47A85.45 85.45 0 0 0 590.35 34.26ZM607.16 37.19A88.89 88.89 0 0 1 607.85 37.55L606.26 40.60A85.45 85.45 0 0 0 605.59 40.26ZM630.20 54.09A88.89 88.89 0 0 1 630.75 54.65L628.27 57.04A85.45 85.45 0 0 0 627.75 56.50ZM638.26 63.52A88.89 88.89 0 0 1 638.72 64.15L635.93 66.17A85.45 85.45 0 0 0 635.49 65.57ZM640.93 67.34A88.89 88.89 0 0 1 641.35 67.98L638.47 69.86A85.45 85.45 0 0 0 638.06 69.24ZM643.00 70.62A88.89 88.89 0 0 1 643.39 71.28L640.43 73.03A85.45 85.45 0 0 0 640.05 72.39ZM647.37 78.83A88.89 88.89 0 0 1 655.03 105.57L651.62 105.99A85.45 85.45 0 0 0 644.25 80.29Z" fill="#ffffff"/>
<path d="M490.83 69.85A89.09 89.09 0 0 1 655.23 105.54L651.42 106.01A85.25 85.25 0 0 0 494.11 71.86Z" fill="none" stroke="#000" stroke-width="0.8"/>
<path d="M495.25 72.55A83.92 83.92 0 0 1 650.09 106.17M498.29 74.42A80.35 80.35 0 0 1 646.55 106.61M499.48 75.14A78.96 78.96 0 0 1 645.17 106.78M495.25 72.55L505.48 78.82M650.09 106.17L638.18 107.64M505.48 78.82A71.92 71.92 0 0 1 638.18 107.64" fill="none" stroke="#000" stroke-width="0.72"/>
<path d="M511.58 82.56A64.77 64.77 0 0 1 631.08 108.51L623.88 109.39A57.51 57.51 0 0 0 517.76 86.35Z" fill="#c4125f"/>
<path d="M511.58 82.56A64.77 64.77 0 0 1 512.60 80.94L518.68 84.91A57.51 57.51 0 0 0 517.76 86.35ZM519.29 72.38A64.77 64.77 0 0 1 520.96 70.65L526.09 75.77A57.51 57.51 0 0 0 524.62 77.31ZM534.64 60.18A64.77 64.77 0 0 1 535.33 59.79L538.86 66.13A57.51 57.51 0 0 0 538.24 66.48ZM540.34 57.29A64.77 64.77 0 0 1 541.22 56.90L544.08 63.57A57.51 57.51 0 0 0 543.30 63.91ZM547.36 54.62A64.77 64.77 0 0 1 547.97 54.43L550.08 61.37A57.51 57.51 0 0 0 549.54 61.54ZM558.60 52.15A64.77 64.77 0 0 1 559.39 52.06L560.22 59.27A57.51 57.51 0 0 0 559.52 59.35ZM561.14 51.88A64.77 64.77 0 0 1 564.97 51.66L565.18 58.91A57.51 57.51 0 0 0 561.77 59.11ZM598.57 59.96A64.77 64.77 0 0 1 599.26 60.35L595.62 66.63A57.51 57.51 0 0 0 595.01 66.28ZM612.43 70.44A64.77 64.77 0 0 1 613.00 71.01L607.82 76.09A57.51 57.51 0 0 0 607.32 75.59Z" fill="#e64000"/>
<path d="M619.19 78.32A64.77 64.77 0 0 1 629.34 99.57L622.33 101.45A57.51 57.51 0 0 0 613.32 82.59Z" fill="#6a00f4"/>
<path d="M626.49 91.25A64.77 64.77 0 0 1 626.73 91.84L620.02 94.59A57.51 57.51 0 0 0 619.80 94.07Z" fill="#e0003c"/>
<path d="M511.58 82.56A64.77 64.77 0 0 1 631.08 108.51L623.88 109.39A57.51 57.51 0 0 0 517.76 86.35Z" fill="none" stroke="#2a0a14" stroke-width="0.45"/>
<path d="M511.19 82.32A65.22 65.22 0 0 1 631.53 108.45M511.32 82.40L508.85 80.89M517.05 74.46L514.83 72.59M523.90 67.48L521.99 65.29M531.73 61.59L530.17 59.15M540.35 56.95L539.17 54.30M549.57 53.66L548.80 50.86M559.17 51.78L558.83 48.90M568.95 51.37L569.05 48.47M578.68 52.43L579.21 49.58M588.15 54.93L589.10 52.19M597.13 58.83L598.48 56.27M605.42 64.03L607.14 61.70M612.84 70.42L614.89 68.37M619.22 77.85L621.55 76.13M624.41 86.15L626.97 84.80M628.29 95.13L631.03 94.18M630.79 104.60L633.64 104.07" fill="none" stroke="#ff2a1a" stroke-width="0.7"/>
<g font-size="2.4" fill="#666" text-anchor="middle"><text x="507.82" y="80.26" transform="rotate(301.5 507.82 80.26)" dy="0.8">0</text><text x="513.91" y="71.82" transform="rotate(310.1 513.91 71.82)" dy="0.8">1</text><text x="521.20" y="64.39" transform="rotate(318.8 521.20 64.39)" dy="0.8">2</text><text x="529.52" y="58.14" transform="rotate(327.4 529.52 58.14)" dy="0.8">3</text><text x="538.68" y="53.21" transform="rotate(336.0 538.68 53.21)" dy="0.8">4</text><text x="548.48" y="49.70" transform="rotate(344.6 548.48 49.70)" dy="0.8">5</text><text x="558.69" y="47.71" transform="rotate(353.3 558.69 47.71)" dy="0.8">6</text><text x="569.09" y="47.27" transform="rotate(361.9 569.09 47.27)" dy="0.8">7</text><text x="579.43" y="48.40" transform="rotate(370.5 579.43 48.40)" dy="0.8">8</text><text x="589.49" y="51.06" transform="rotate(379.2 589.49 51.06)" dy="0.8">9</text><text x="599.04" y="55.20" transform="rotate(387.8 599.04 55.20)" dy="0.8">10</text><text x="607.85" y="60.73" transform="rotate(396.4 607.85 60.73)" dy="0.8">11</text><text x="615.74" y="67.52" transform="rotate(405.0 615.74 67.52)" dy="0.8">12</text><text x="622.52" y="75.42" transform="rotate(413.7 622.52 75.42)" dy="0.8">13</text><text x="628.04" y="84.24" transform="rotate(422.3 628.04 84.24)" dy="0.8">14</text><text x="632.17" y="93.79" transform="rotate(430.9 632.17 93.79)" dy="0.8">15</text><text x="634.82" y="103.85" transform="rotate(439.5 634.82 103.85)" dy="0.8">16</text></g>
<path d="M655.89 116.40A89.09 89.09 0 1 1 485.41 80.16L488.92 81.72A85.25 85.25 0 1 0 652.05 116.40Z" fill="#ffffff" stroke="none"/>
<path d="M655.69 116.40A88.89 88.89 0 0 1 651.81 142.39L648.52 141.38A85.45 85.45 0 0 0 652.25 116.40ZM548.77 203.45A88.89 88.89 0 0 1 485.59 80.24L488.73 81.64A85.45 85.45 0 0 0 549.47 200.08Z" fill="#ee1a60"/>
<path d="M655.64 119.50A88.89 88.89 0 0 1 655.59 120.74L652.15 120.57A85.45 85.45 0 0 0 652.20 119.38ZM654.93 128.00A88.89 88.89 0 0 1 654.76 129.23L651.36 128.74A85.45 85.45 0 0 0 651.52 127.55ZM542.30 201.85A88.89 88.89 0 0 1 541.55 201.63L542.53 198.33A85.45 85.45 0 0 0 543.25 198.54ZM527.83 196.30A88.89 88.89 0 0 1 527.14 195.95L528.67 192.88A85.45 85.45 0 0 0 529.34 193.20ZM509.66 184.50A88.89 88.89 0 0 1 509.07 184.00L511.30 181.38A85.45 85.45 0 0 0 511.87 181.86ZM484.09 148.98A88.89 88.89 0 0 1 483.81 148.26L487.02 147.02A85.45 85.45 0 0 0 487.29 147.72ZM479.39 132.60A88.89 88.89 0 0 1 479.26 131.84L482.64 131.24A85.45 85.45 0 0 0 482.78 131.97ZM478.48 106.34A88.89 88.89 0 0 1 479.85 97.92L483.21 98.63A85.45 85.45 0 0 0 481.90 106.73ZM482.26 88.93A88.89 88.89 0 0 1 482.50 88.19L485.76 89.29A85.45 85.45 0 0 0 485.53 89.99ZM483.81 84.54A88.89 88.89 0 0 1 484.09 83.82L487.29 85.08A85.45 85.45 0 0 0 487.02 85.78Z" fill="#ffffff"/>
<path d="M655.89 116.40A89.09 89.09 0 1 1 485.41 80.16L488.92 81.72A85.25 85.25 0 1 0 652.05 116.40Z" fill="none" stroke="#000" stroke-width="0.8"/>
<path d="M646.85 140.87A83.71 83.71 0 0 1 583.63 198.40L583.00 195.31A80.56 80.56 0 0 0 643.84 139.95Z" fill="#795548"/>
<path d="M583.63 198.40A83.71 83.71 0 0 1 582.05 198.70L581.48 195.61A80.56 80.56 0 0 0 583.00 195.31Z" fill="#4caf50"/>
<path d="M579.89 199.08A83.71 83.71 0 0 1 571.03 200.00L570.88 196.86A80.56 80.56 0 0 0 579.40 195.97Z" fill="#ff9800"/>
<path d="M571.03 200.00A83.71 83.71 0 0 1 555.44 199.33L555.87 196.21A80.56 80.56 0 0 0 570.88 196.86Z" fill="#4caf50"/>
<path d="M555.44 199.33A83.71 83.71 0 0 1 549.83 198.37L550.46 195.28A80.56 80.56 0 0 0 555.87 196.21Z" fill="#795548"/>
<path d="M514.12 181.45A83.71 83.71 0 0 1 506.59 174.55L508.85 172.36A80.56 80.56 0 0 0 516.10 179.01Z" fill="#795548"/>
<path d="M484.12 103.31A83.71 83.71 0 0 1 484.98 98.71L488.06 99.38A80.56 80.56 0 0 0 487.23 103.80Z" fill="#795548"/>
<path d="M650.72 116.40A83.92 83.92 0 1 1 490.14 82.27M647.15 116.40A80.35 80.35 0 1 1 493.40 83.72M645.76 116.40A78.96 78.96 0 1 1 494.67 84.28M650.72 116.40L638.72 116.40M490.14 82.27L501.10 87.15M638.72 116.40A71.92 71.92 0 1 1 501.10 87.15" fill="none" stroke="#000" stroke-width="0.72"/>
<path d="M631.57 116.40A64.77 64.77 0 1 1 507.63 90.06L514.26 93.01A57.51 57.51 0 1 0 624.31 116.40Z" fill="#cccccc"/>
<path d="M631.56 116.97A64.77 64.77 0 0 1 631.48 119.79L624.23 119.41A57.51 57.51 0 0 0 624.31 116.90ZM630.38 128.76A64.77 64.77 0 0 1 629.64 132.07L622.60 130.31A57.51 57.51 0 0 0 623.25 127.37ZM534.42 172.49A64.77 64.77 0 0 1 532.00 171.02L535.90 164.90A57.51 57.51 0 0 0 538.04 166.21ZM530.12 169.78A64.77 64.77 0 0 1 527.82 168.13L532.19 162.33A57.51 57.51 0 0 0 534.23 163.80ZM510.15 147.80A64.77 64.77 0 0 1 509.40 146.41L515.83 143.04A57.51 57.51 0 0 0 516.50 144.28ZM504.42 133.82A64.77 64.77 0 0 1 504.12 132.73L511.15 130.90A57.51 57.51 0 0 0 511.41 131.87ZM502.04 115.27A64.77 64.77 0 0 1 502.08 113.91L509.33 114.19A57.51 57.51 0 0 0 509.30 115.40ZM504.24 99.64A64.77 64.77 0 0 1 504.51 98.66L511.49 100.64A57.51 57.51 0 0 0 511.25 101.51Z" fill="#e64000"/>
<path d="M631.15 123.73A64.77 64.77 0 0 1 630.86 125.97L623.68 124.90A57.51 57.51 0 0 0 623.94 122.91ZM628.57 135.88A64.77 64.77 0 0 1 554.44 179.98L555.83 172.85A57.51 57.51 0 0 0 621.65 133.69ZM526.04 166.73A64.77 64.77 0 0 1 518.67 159.74L524.06 154.88A57.51 57.51 0 0 0 530.61 161.09ZM502.74 106.83A64.77 64.77 0 0 1 503.96 100.73L511.00 102.49A57.51 57.51 0 0 0 509.92 107.90Z" fill="#eeeeee"/>
<path d="M544.33 177.14A64.77 64.77 0 0 1 540.87 175.75L543.78 169.10A57.51 57.51 0 0 0 546.85 170.34ZM504.12 132.73A64.77 64.77 0 0 1 502.78 126.20L509.95 125.10A57.51 57.51 0 0 0 511.15 130.90Z" fill="#c4125f"/>
<path d="M631.57 116.40A64.77 64.77 0 1 1 507.63 90.06L514.26 93.01A57.51 57.51 0 1 0 624.31 116.40Z" fill="none" stroke="#111" stroke-width="0.6"/>
<path d="M632.02 116.40A65.22 65.22 0 1 1 507.22 89.87M631.87 116.40L634.77 116.40M631.14 126.10L634.01 126.53M628.98 135.58L631.75 136.43M625.42 144.63L628.04 145.89M620.56 153.05L622.96 154.69M614.50 160.66L616.62 162.63M607.37 167.27L609.18 169.54M599.33 172.75L600.78 175.26M590.57 176.97L591.63 179.67M581.28 179.84L581.92 182.66M571.66 181.28L571.88 184.18M561.94 181.28L561.72 184.18M552.32 179.84L551.68 182.66M543.03 176.97L541.97 179.67M534.27 172.75L532.82 175.26M526.23 167.27L524.42 169.54M519.10 160.66L516.98 162.63M513.04 153.05L510.64 154.69M508.18 144.63L505.56 145.89M504.62 135.58L501.85 136.43M502.46 126.10L499.59 126.53M501.73 116.40L498.83 116.40M502.46 106.70L499.59 106.27M504.62 97.22L501.85 96.37" fill="none" stroke="#ff2a1a" stroke-width="0.7"/>
<g font-size="2.4" fill="#666" text-anchor="middle"><text x="635.97" y="116.40" transform="rotate(270.0 635.97 116.40)" dy="0.8">0</text><text x="635.20" y="126.71" transform="rotate(278.6 635.20 126.71)" dy="0.8">1</text><text x="632.89" y="136.79" transform="rotate(287.1 632.89 136.79)" dy="0.8">2</text><text x="629.12" y="146.41" transform="rotate(295.7 629.12 146.41)" dy="0.8">3</text><text x="623.95" y="155.36" transform="rotate(304.3 623.95 155.36)" dy="0.8">4</text><text x="617.50" y="163.45" transform="rotate(312.9 617.50 163.45)" dy="0.8">5</text><text x="609.93" y="170.48" transform="rotate(321.4 609.93 170.48)" dy="0.8">6</text><text x="601.38" y="176.30" transform="rotate(330.0 601.38 176.30)" dy="0.8">7</text><text x="592.07" y="180.79" transform="rotate(338.6 592.07 180.79)" dy="0.8">8</text><text x="582.19" y="183.83" transform="rotate(347.1 582.19 183.83)" dy="0.8">9</text><text x="571.97" y="185.37" transform="rotate(355.7 571.97 185.37)" dy="0.8">10</text><text x="561.63" y="185.37" transform="rotate(364.3 561.63 185.37)" dy="0.8">11</text><text x="551.41" y="183.83" transform="rotate(372.9 551.41 183.83)" dy="0.8">12</text><text x="541.53" y="180.79" transform="rotate(381.4 541.53 180.79)" dy="0.8">13</text><text x="532.22" y="176.30" transform="rotate(390.0 532.22 176.30)" dy="0.8">14</text><text x="523.67" y="170.48" transform="rotate(398.6 523.67 170.48)" dy="0.8">15</text><text x="516.10" y="163.45" transform="rotate(407.1 516.10 163.45)" dy="0.8">16</text><text x="509.65" y="155.36" transform="rotate(415.7 509.65 155.36)" dy="0.8">17</text><text x="504.48" y="146.41" transform="rotate(424.3 504.48 146.41)" dy="0.8">18</text><text x="500.71" y="136.79" transform="rotate(432.9 500.71 136.79)" dy="0.8">19</text><text x="498.40" y="126.71" transform="rotate(441.4 498.40 126.71)" dy="0.8">20</text><text x="497.63" y="116.40" transform="rotate(270.0 497.63 116.40)" dy="0.8">21</text><text x="498.40" y="106.09" transform="rotate(278.6 498.40 106.09)" dy="0.8">22</text><text x="500.71" y="96.01" transform="rotate(287.1 500.71 96.01)" dy="0.8">23</text></g>
<g font-size="3.95">
<text x="488.45" y="66.49" transform="rotate(392.5 488.45 66.49)" dy="1" text-anchor="end" fill="#ee4f2c">tRNA-Ala</text>
<text x="490.40" y="63.56" transform="rotate(394.7 490.40 63.56)" dy="1" text-anchor="end" fill="#ee4f2c">tRNA-Leu</text>
<text x="492.45" y="60.71" transform="rotate(396.8 492.45 60.71)" dy="1" text-anchor="end" fill="#ee4f2c">tRNA-Ser</text>
<text x="494.61" y="57.94" transform="rotate(399.0 494.61 57.94)" dy="1" text-anchor="end" fill="#d845a8">COX1</text>
<text x="497.23" y="54.85" transform="rotate(401.5 497.23 54.85)" dy="1" text-anchor="end" fill="#ee4f2c">tRNA-Ser</text>
<text x="499.60" y="52.26" transform="rotate(403.7 499.60 52.26)" dy="1" text-anchor="end" fill="#ee4f2c">tRNA-Cys</text>
<text x="502.08" y="49.77" transform="rotate(405.8 502.08 49.77)" dy="1" text-anchor="end" fill="#ee4f2c">tRNA-Tyr</text>
<text x="504.64" y="47.37" transform="rotate(408.0 504.64 47.37)" dy="1" text-anchor="end" fill="#d845a8">COX1</text>
<text x="516.48" y="38.32" transform="rotate(417.2 516.48 38.32)" dy="1" text-anchor="end" fill="#ee4f2c">tRNA-Met</text>
<text x="519.37" y="36.52" transform="rotate(419.3 519.37 36.52)" dy="1" text-anchor="end" fill="#d845a8">ND2</text>
<text x="525.06" y="33.41" transform="rotate(423.3 525.06 33.41)" dy="1" text-anchor="end" fill="#ee4f2c">tRNA-Lys</text>
<text x="527.76" y="32.11" transform="rotate(425.1 527.76 32.11)" dy="1" text-anchor="end" fill="#d845a8">ATP8</text>
<text x="530.50" y="30.89" transform="rotate(427.0 530.50 30.89)" dy="1" text-anchor="end" fill="#d845a8">ATP6</text>
<text x="541.19" y="27.10" transform="rotate(434.0 541.19 27.10)" dy="1" text-anchor="end" fill="#d845a8">COX3</text>
<text x="549.87" y="25.06" transform="rotate(439.5 549.87 25.06)" dy="1" text-anchor="end" fill="#ee4f2c">tRNA-Ser</text>
<text x="552.18" y="24.66" transform="rotate(440.9 552.18 24.66)" dy="1" text-anchor="end" fill="#ee4f2c">tRNA-Glu</text>
<text x="554.50" y="24.32" transform="rotate(442.4 554.50 24.32)" dy="1" text-anchor="end" fill="#d845a8">ND3</text>
<text x="556.82" y="24.04" transform="rotate(443.8 556.82 24.04)" dy="1" text-anchor="end" fill="#ee4f2c">tRNA-Thr</text>
<text x="559.15" y="23.82" transform="rotate(445.3 559.15 23.82)" dy="1" text-anchor="end" fill="#d845a8">ND4</text>
<text x="561.49" y="23.66" transform="rotate(446.7 561.49 23.66)" dy="1" text-anchor="end" fill="#ee4f2c">tRNA-Leu</text>
<text x="563.83" y="23.55" transform="rotate(448.2 563.83 23.55)" dy="1" text-anchor="end" fill="#ee4f2c">tRNA-Glu</text>
<text x="566.17" y="23.51" transform="rotate(449.6 566.17 23.51)" dy="1" text-anchor="end" fill="#ee4f2c">tRNA-Phe</text>
<text x="568.51" y="23.52" transform="rotate(-88.9 568.51 23.52)" dy="1" fill="#ee4f2c">tRNA-Arg</text>
<text x="570.85" y="23.59" transform="rotate(-87.5 570.85 23.59)" dy="1" fill="#d845a8">ATP8</text>
<text x="588.17" y="26.00" transform="rotate(-76.7 588.17 26.00)" dy="1" fill="#ee4f2c">tRNA-Glu</text>
<text x="591.00" y="26.71" transform="rotate(-74.9 591.00 26.71)" dy="1" fill="#d845a8">ND6</text>
<text x="609.69" y="34.00" transform="rotate(-62.5 609.69 34.00)" dy="1" fill="#d845a8">ND4L</text>
<text x="612.12" y="35.31" transform="rotate(-60.8 612.12 35.31)" dy="1" fill="#ee4f2c">tRNA-Ala</text>
<text x="614.51" y="36.69" transform="rotate(-59.1 614.51 36.69)" dy="1" fill="#ee4f2c">tRNA-Trp</text>
<text x="616.85" y="38.14" transform="rotate(-57.4 616.85 38.14)" dy="1" fill="#ee4f2c">tRNA-Arg</text>
<text x="622.06" y="41.73" transform="rotate(-53.5 622.06 41.73)" dy="1" fill="#d845a8">CYTB</text>
<text x="631.68" y="49.92" transform="rotate(-45.7 631.68 49.92)" dy="1" fill="#ee4f2c">tRNA-Thr</text>
<text x="633.74" y="51.99" transform="rotate(-43.9 633.74 51.99)" dy="1" fill="#ee4f2c">tRNA-Pro</text>
<text x="642.05" y="61.93" transform="rotate(-35.9 642.05 61.93)" dy="1" fill="#ee4f2c">tRNA-Phe</text>
<text x="643.72" y="64.32" transform="rotate(-34.1 643.72 64.32)" dy="1" fill="#7b3ff2">12S rRNA</text>
<text x="651.26" y="77.73" transform="rotate(-24.6 651.26 77.73)" dy="1" fill="#ee4f2c">tRNA-Val</text>
<text x="652.44" y="80.40" transform="rotate(-22.8 652.44 80.40)" dy="1" fill="#7b3ff2">16S rRNA</text>
<text x="656.36" y="91.73" transform="rotate(-15.4 656.36 91.73)" dy="1" fill="#d6337f">D-loop</text>
<text x="659.69" y="117.05" transform="rotate(0.4 659.69 117.05)" dy="1" fill="#ee4f2c">tRNA-Ser</text>
<text x="659.67" y="118.67" transform="rotate(1.4 659.67 118.67)" dy="1" fill="#ee4f2c">tRNA-Ser</text>
<text x="659.61" y="120.29" transform="rotate(2.4 659.61 120.29)" dy="1" fill="#ee4f2c">tRNA-Arg</text>
<text x="659.53" y="121.91" transform="rotate(3.4 659.53 121.91)" dy="1" fill="#ee4f2c">tRNA-Asp</text>
<text x="657.86" y="134.76" transform="rotate(11.4 657.86 134.76)" dy="1" fill="#ee4f2c">tRNA-Trp</text>
<text x="657.09" y="138.24" transform="rotate(13.6 657.09 138.24)" dy="1" fill="#ee4f2c">tRNA-Tyr</text>
<text x="653.52" y="149.69" transform="rotate(21.0 653.52 149.69)" dy="1" fill="#8a6a5c">(TAAAA)n</text>
<text x="652.12" y="153.14" transform="rotate(23.3 652.12 153.14)" dy="1" fill="#8a6a5c">(TAAA)n</text>
<text x="650.58" y="156.54" transform="rotate(25.6 650.58 156.54)" dy="1" fill="#8a6a5c">(CAAAA)n</text>
<text x="648.36" y="160.87" transform="rotate(28.6 648.36 160.87)" dy="1" fill="#8a6a5c">(TAAAA)n</text>
<text x="636.59" y="177.71" transform="rotate(41.3 636.59 177.71)" dy="1" fill="#8a6a5c">(CAAAAA)n</text>
<text x="630.27" y="184.23" transform="rotate(46.9 630.27 184.23)" dy="1" fill="#8a6a5c">(TA)n</text>
<text x="627.38" y="186.83" transform="rotate(49.3 627.38 186.83)" dy="1" fill="#8a6a5c">LINE/L2</text>
<text x="624.37" y="189.30" transform="rotate(51.7 624.37 189.30)" dy="1" fill="#8a6a5c">DNA/hAT-Charlie</text>
<text x="615.20" y="195.69" transform="rotate(58.6 615.20 195.69)" dy="1" fill="#8a6a5c">DNA/TcMar-Tigger</text>
<text x="612.40" y="197.33" transform="rotate(60.6 612.40 197.33)" dy="1" fill="#8a6a5c">LTR/ERVL-MaLR</text>
<text x="592.41" y="205.70" transform="rotate(74.0 592.41 205.70)" dy="1" fill="#8a6a5c">DNA/hAT-Charlie</text>
<text x="589.01" y="206.60" transform="rotate(76.2 589.01 206.60)" dy="1" fill="#777777">(CAAAA)n</text>
<text x="585.58" y="207.38" transform="rotate(78.3 585.58 207.38)" dy="1" fill="#8a6a5c">DNA/hAT-Charlie</text>
<text x="582.13" y="208.02" transform="rotate(80.5 582.13 208.02)" dy="1" fill="#8a6a5c">A-rich</text>
<text x="579.73" y="208.39" transform="rotate(82.0 579.73 208.39)" dy="1" fill="#8a6a5c">SINE/MIR</text>
<text x="576.27" y="208.81" transform="rotate(84.2 576.27 208.81)" dy="1" fill="#ff9800">AluSx</text>
<text x="572.79" y="209.10" transform="rotate(86.3 572.79 209.10)" dy="1" fill="#ff9800">AluJb</text>
<text x="570.04" y="209.24" transform="rotate(88.0 570.04 209.24)" dy="1" fill="#4caf50">LINE/L1-L1PA4</text>
<text x="566.64" y="209.29" transform="rotate(270.1 566.64 209.29)" dy="1" text-anchor="end" fill="#4caf50">LINE/L1-L1MC</text>
<text x="563.23" y="209.23" transform="rotate(272.2 563.23 209.23)" dy="1" text-anchor="end" fill="#4caf50">LINE/L1-L1MC</text>
<text x="559.83" y="209.03" transform="rotate(274.3 559.83 209.03)" dy="1" text-anchor="end" fill="#4caf50">LINE/L1-L1MB7</text>
<text x="556.45" y="208.72" transform="rotate(276.4 556.45 208.72)" dy="1" text-anchor="end" fill="#4caf50">LINE/L1-L1M5</text>
<text x="553.55" y="208.34" transform="rotate(278.2 553.55 208.34)" dy="1" text-anchor="end" fill="#777777">A-rich</text>
<text x="550.03" y="207.77" transform="rotate(280.4 550.03 207.77)" dy="1" text-anchor="end" fill="#8a6a5c">DNA/hAT</text>
<text x="532.00" y="202.53" transform="rotate(292.0 532.00 202.53)" dy="1" text-anchor="end" fill="#d845a8">ND5</text>
<text x="529.02" y="201.26" transform="rotate(294.0 529.02 201.26)" dy="1" text-anchor="end" fill="#d845a8">ND6</text>
<text x="523.91" y="198.80" transform="rotate(297.5 523.91 198.80)" dy="1" text-anchor="end" fill="#ee4f2c">tRNA-Val</text>
<text x="521.34" y="197.41" transform="rotate(299.3 521.34 197.41)" dy="1" text-anchor="end" fill="#ee4f2c">tRNA-Cys</text>
<text x="518.82" y="195.94" transform="rotate(301.1 518.82 195.94)" dy="1" text-anchor="end" fill="#ee4f2c">tRNA-Phe</text>
<text x="516.34" y="194.40" transform="rotate(302.9 516.34 194.40)" dy="1" text-anchor="end" fill="#ee4f2c">tRNA-Asn</text>
<text x="513.92" y="192.77" transform="rotate(304.7 513.92 192.77)" dy="1" text-anchor="end" fill="#ee4f2c">tRNA-Arg</text>
<text x="511.54" y="191.07" transform="rotate(306.5 511.54 191.07)" dy="1" text-anchor="end" fill="#ee4f2c">tRNA-Glu</text>
<text x="509.23" y="189.30" transform="rotate(308.3 509.23 189.30)" dy="1" text-anchor="end" fill="#8a6a5c">DNA/hAT</text>
<text x="501.34" y="182.32" transform="rotate(314.8 501.34 182.32)" dy="1" text-anchor="end" fill="#ee4f2c">tRNA-Phe</text>
<text x="486.11" y="162.43" transform="rotate(330.3 486.11 162.43)" dy="1" text-anchor="end" fill="#ee4f2c">tRNA-Val</text>
<text x="478.20" y="144.33" transform="rotate(342.5 478.20 144.33)" dy="1" text-anchor="end" fill="#ee4f2c">tRNA-Thr</text>
<text x="477.05" y="140.36" transform="rotate(345.1 477.05 140.36)" dy="1" text-anchor="end" fill="#ee4f2c">tRNA-Pro</text>
<text x="476.07" y="136.35" transform="rotate(347.6 476.07 136.35)" dy="1" text-anchor="end" fill="#d845a8">ND6</text>
<text x="473.94" y="113.97" transform="rotate(361.5 473.94 113.97)" dy="1" text-anchor="end" fill="#ee4f2c">tRNA-Ser</text>
<text x="474.70" y="104.27" transform="rotate(367.5 474.70 104.27)" dy="1" text-anchor="end" fill="#8a6a5c">(TA)n</text>
<text x="475.11" y="101.47" transform="rotate(369.2 475.11 101.47)" dy="1" text-anchor="end" fill="#8a6a5c">DNA/TcMar-Tigger</text>
<text x="475.61" y="98.67" transform="rotate(371.0 475.61 98.67)" dy="1" text-anchor="end" fill="#8a6a5c">(TATATG)n</text>
<text x="477.50" y="90.79" transform="rotate(376.0 477.50 90.79)" dy="1" text-anchor="end" fill="#8a6a5c">DNA/hAT-Charlie</text>
<text x="478.40" y="87.85" transform="rotate(377.9 478.40 87.85)" dy="1" text-anchor="end" fill="#ee4f2c">tRNA-Leu</text>
</g>
<path d="M491.49 68.42L489.13 66.92M493.36 65.61L491.05 64.02M495.33 62.87L493.09 61.19M497.41 60.21L495.23 58.44M499.92 57.23L497.83 55.38M502.21 54.75L500.18 52.81M504.58 52.35L502.63 50.34M507.05 50.04L505.18 47.96M518.43 41.34L516.91 38.99M521.21 39.62L519.78 37.21M526.68 36.63L525.42 34.13M529.27 35.37L528.10 32.83M531.91 34.20L530.82 31.63M542.19 30.56L541.42 27.87M550.53 28.60L550.02 25.85M552.75 28.22L552.31 25.45M554.97 27.89L554.60 25.12M557.21 27.62L556.91 24.84M559.45 27.41L559.22 24.62M561.69 27.25L561.53 24.46M563.94 27.15L563.85 24.35M566.19 27.11L566.17 24.31M568.44 27.12L568.50 24.32M570.69 27.19L570.82 24.39M587.34 29.50L587.99 26.78M590.06 30.19L590.79 27.49M608.03 37.19L609.32 34.71M610.36 38.45L611.73 36.01M612.66 39.78L614.09 37.38M614.91 41.17L616.42 38.81M619.91 44.62L621.58 42.37M629.16 52.49L631.12 50.49M631.14 54.48L633.16 52.54M639.13 64.04L641.40 62.40M640.74 66.34L643.06 64.77M647.99 79.23L650.54 78.06M649.12 81.80L651.70 80.71M652.89 92.69L655.59 91.94M656.09 117.02L658.89 117.04M656.07 118.58L658.87 118.65M656.02 120.14L658.81 120.26M655.94 121.70L658.73 121.86M654.33 134.05L657.08 134.60M653.59 137.40L656.31 138.06M650.16 148.40L652.78 149.40M648.81 151.72L651.38 152.83M647.33 154.98L649.85 156.19M645.20 159.14L647.66 160.48M633.88 175.33L635.99 177.18M627.81 181.60L629.73 183.64M625.03 184.10L626.85 186.22M622.14 186.48L623.88 188.67M613.32 192.62L614.78 195.01M610.64 194.19L612.01 196.63M591.41 202.24L592.18 204.93M588.15 203.10L588.82 205.82M584.86 203.85L585.42 206.59M581.54 204.47L582.00 207.23M579.23 204.83L579.62 207.60M575.90 205.23L576.19 208.01M572.56 205.51L572.74 208.30M569.92 205.64L570.01 208.44M566.64 205.69L566.64 208.49M563.37 205.63L563.26 208.43M560.10 205.44L559.89 208.24M556.85 205.14L556.53 207.92M554.06 204.78L553.66 207.55M550.68 204.23L550.18 206.98M533.35 199.19L532.30 201.79M530.48 197.97L529.34 200.53M525.57 195.61L524.28 198.09M523.10 194.27L521.73 196.71M520.68 192.86L519.23 195.26M518.30 191.37L516.78 193.72M515.97 189.81L514.37 192.11M513.69 188.18L512.02 190.43M511.46 186.48L509.72 188.67M503.88 179.76L501.91 181.75M489.24 160.64L486.80 162.03M481.64 143.25L478.97 144.09M480.53 139.44L477.82 140.16M479.59 135.57L476.85 136.18M477.54 114.06L474.74 113.99M478.27 104.74L475.49 104.38M478.67 102.05L475.90 101.60M479.15 99.36L476.40 98.83M480.96 91.79L478.27 91.02M481.83 88.95L479.16 88.09" stroke="#111" stroke-width="0.5" fill="none"/>
<text x="568.4" y="162.8" font-size="14.0" font-weight="700" text-anchor="middle" fill="#111">chr2MT5</text>
<text x="579.0" y="65.2" font-size="4.3" fill="#444" text-anchor="middle" transform="rotate(12 579.0 65.2)">chrM</text>
</g>
<text x="-1.5" y="16.4" font-size="29.5" fill="#000">a</text>
<text x="2.0" y="239.8" font-size="30.3" fill="#000">b</text>
<g id="panel-b">
<text x="107.2" y="240.7" font-size="4.4" font-weight="700" text-anchor="middle" fill="#111">chr5MT1</text>
<text x="19.1" y="256.6" font-size="4.7" fill="#444">Tree scale: 0.1</text>
<path d="M53.4 255.2H98.5M53.4 253.9V256.5M98.5 253.9V256.5M75.9 254.7V255.7" stroke="#858585" stroke-width="0.7" fill="none"/>
<path d="M20.50 287.18H21.70M21.70 265.50V308.86M21.70 308.86H22.50M22.50 281.05V336.66M22.50 336.66H27.20M27.20 296.60V376.72M27.20 376.72H33.40M33.40 329.64V423.80M33.40 329.64H38.30M38.30 312.15V347.14M38.30 347.14H40.50M40.50 335.48V358.80M40.50 335.48H41.30M41.30 327.70V343.25M33.40 423.80H37.20M37.20 403.51V436.55M37.20 403.51H41.50M41.50 386.01V421.00M41.50 386.01H42.50M42.50 374.35V397.68M42.50 397.68H46.10M46.10 389.90V405.45M27.20 296.60H33.00M38.30 312.15H44.20M40.50 358.80H58.00M42.50 374.35H65.20M46.10 389.90H67.20M46.10 405.45H73.10M41.50 421.00H75.00M37.20 436.55H82.30" stroke="#1a1a1a" stroke-width="0.75" fill="none"/>
<path d="M81.6 265.50H21.70M81.6 281.05H22.50M81.6 296.60H33.00M81.6 312.15H44.20M81.6 327.70H41.30M81.6 343.25H41.30M81.6 358.80H58.00M81.6 374.35H65.20M81.6 389.90H67.20M81.6 405.45H73.10M81.6 421.00H75.00" stroke="#1a1a1a" stroke-width="0.8" stroke-dasharray="3.3 4.55" fill="none"/>
<rect x="85" y="259.20" width="23.3" height="12.6" fill="#a6cee3"/>
<text x="85.6" y="269.10" font-size="10.2" letter-spacing="0.05" fill="#111">chrM</text>
<rect x="85" y="274.75" width="41" height="12.6" fill="#a6cee3"/>
<text x="85.6" y="284.65" font-size="10.2" letter-spacing="0.05" fill="#111">chr5MT1</text>
<rect x="85" y="290.30" width="48" height="12.6" fill="#a6cee3"/>
<text x="85.6" y="300.20" font-size="10.2" letter-spacing="0.05" fill="#111">chrXMT15</text>
<rect x="85" y="305.85" width="41" height="12.6" fill="#a6cee3"/>
<text x="85.6" y="315.75" font-size="10.2" letter-spacing="0.05" fill="#111">chr4MT1</text>
<rect x="85" y="321.40" width="42.3" height="12.6" fill="#a6cee3"/>
<text x="85.6" y="331.30" font-size="10.2" letter-spacing="0.05" fill="#111">chrXMT7</text>
<rect x="85" y="336.95" width="42.3" height="12.6" fill="#a6cee3"/>
<text x="85.6" y="346.85" font-size="10.2" letter-spacing="0.05" fill="#111">chrXMT5</text>
<rect x="85" y="352.50" width="42.3" height="12.6" fill="#a6cee3"/>
<text x="85.6" y="362.40" font-size="10.2" letter-spacing="0.05" fill="#111">chrXMT8</text>
<rect x="85" y="368.05" width="48" height="12.6" fill="#c0b1a4"/>
<text x="85.6" y="377.95" font-size="10.2" letter-spacing="0.05" fill="#111">chrXMT13</text>
<rect x="85" y="383.60" width="47.6" height="12.6" fill="#c0b1a4"/>
<text x="85.6" y="393.50" font-size="10.2" letter-spacing="0.05" fill="#111">chrXMT11</text>
<rect x="85" y="399.15" width="42.3" height="12.6" fill="#c0b1a4"/>
<text x="85.6" y="409.05" font-size="10.2" letter-spacing="0.05" fill="#111">chrXMT1</text>
<rect x="85" y="414.70" width="41" height="12.6" fill="#c0b1a4"/>
<text x="85.6" y="424.60" font-size="10.2" letter-spacing="0.05" fill="#111">chr2MT6</text>
<rect x="85" y="430.25" width="41" height="12.6" fill="#b2df8a"/>
<text x="85.6" y="440.15" font-size="10.2" letter-spacing="0.05" fill="#111">chr2MT5</text>
<circle cx="142.3" cy="281.05" r="7.0" fill="#0000ff"/>
<path d="M142.3 281.05L142.3 274.05A7.0 7.0 0 1 1 138.81 274.98Z" fill="#00ff00"/>
<circle cx="158.9" cy="281.05" r="7.0" fill="#0000ff"/>
<path d="M158.9 281.05L158.9 274.05A7.0 7.0 0 0 1 159.56 288.02Z" fill="#00ff00"/>
<circle cx="175.3" cy="281.05" r="7.0" fill="#0000ff"/>
<path d="M175.3 281.05L175.3 274.05A7.0 7.0 0 1 1 170.84 275.66Z" fill="#00ff00"/>
<circle cx="142.3" cy="296.60" r="7.0" fill="#0000ff"/>
<path d="M142.3 296.60L142.3 289.60A7.0 7.0 0 1 1 135.64 294.44Z" fill="#00ff00"/>
<circle cx="158.9" cy="296.60" r="7.0" fill="#0000ff"/>
<path d="M158.9 296.60L158.9 289.60A7.0 7.0 0 1 1 156.53 303.19Z" fill="#00ff00"/>
<circle cx="175.3" cy="296.60" r="7.0" fill="#0000ff"/>
<path d="M175.3 296.60L175.3 289.60A7.0 7.0 0 1 1 172.93 290.01Z" fill="#00ff00"/>
<circle cx="142.3" cy="312.15" r="7.0" fill="#0000ff"/>
<path d="M142.3 312.15L142.3 305.15A7.0 7.0 0 1 1 135.71 309.78Z" fill="#00ff00"/>
<circle cx="158.9" cy="312.15" r="7.0" fill="#0000ff"/>
<path d="M158.9 312.15L158.9 305.15A7.0 7.0 0 1 1 157.59 319.03Z" fill="#00ff00"/>
<circle cx="175.3" cy="312.15" r="7.0" fill="#0000ff"/>
<path d="M175.3 312.15L175.3 305.15A7.0 7.0 0 1 1 169.91 316.61Z" fill="#00ff00"/>
<circle cx="142.3" cy="327.70" r="7.0" fill="#0000ff"/>
<path d="M142.3 327.70L142.3 320.70A7.0 7.0 0 1 1 135.97 324.72Z" fill="#00ff00"/>
<circle cx="158.9" cy="327.70" r="7.0" fill="#0000ff"/>
<path d="M158.9 327.70L158.9 320.70A7.0 7.0 0 1 1 158.24 334.67Z" fill="#00ff00"/>
<circle cx="175.3" cy="327.70" r="7.0" fill="#0000ff"/>
<path d="M175.3 327.70L175.3 320.70A7.0 7.0 0 1 1 173.35 320.98Z" fill="#00ff00"/>
<circle cx="142.3" cy="343.25" r="7.0" fill="#0000ff"/>
<path d="M142.3 343.25L142.3 336.25A7.0 7.0 0 1 1 135.52 341.51Z" fill="#00ff00"/>
<circle cx="158.9" cy="343.25" r="7.0" fill="#0000ff"/>
<path d="M158.9 343.25L158.9 336.25A7.0 7.0 0 1 1 158.37 350.23Z" fill="#00ff00"/>
<circle cx="175.3" cy="343.25" r="7.0" fill="#0000ff"/>
<path d="M175.3 343.25L175.3 336.25A7.0 7.0 0 1 1 168.97 340.27Z" fill="#00ff00"/>
<circle cx="142.3" cy="358.80" r="7.0" fill="#0000ff"/>
<path d="M142.3 358.80L142.3 351.80A7.0 7.0 0 1 1 135.64 356.64Z" fill="#00ff00"/>
<circle cx="158.9" cy="358.80" r="7.0" fill="#0000ff"/>
<path d="M158.9 358.80L158.9 351.80A7.0 7.0 0 1 1 158.46 365.79Z" fill="#00ff00"/>
<circle cx="175.3" cy="358.80" r="7.0" fill="#0000ff"/>
<path d="M175.3 358.80L175.3 351.80A7.0 7.0 0 1 1 173.56 365.58Z" fill="#00ff00"/>
<circle cx="142.3" cy="374.35" r="7.0" fill="#0000ff"/>
<path d="M142.3 374.35L142.3 367.35A7.0 7.0 0 1 1 135.42 373.04Z" fill="#00ff00"/>
<circle cx="158.9" cy="374.35" r="7.0" fill="#0000ff"/>
<path d="M158.9 374.35L158.9 367.35A7.0 7.0 0 1 1 155.92 380.68Z" fill="#00ff00"/>
<circle cx="175.3" cy="374.35" r="7.0" fill="#0000ff"/>
<path d="M175.3 374.35L175.3 367.35A7.0 7.0 0 1 1 171.19 380.01Z" fill="#00ff00"/>
<circle cx="142.3" cy="389.90" r="7.0" fill="#0000ff"/>
<path d="M142.3 389.90L142.3 382.90A7.0 7.0 0 1 1 135.42 388.59Z" fill="#00ff00"/>
<circle cx="158.9" cy="389.90" r="7.0" fill="#0000ff"/>
<path d="M158.9 389.90L158.9 382.90A7.0 7.0 0 1 1 156.53 396.49Z" fill="#00ff00"/>
<circle cx="175.3" cy="389.90" r="7.0" fill="#0000ff"/>
<path d="M175.3 389.90L175.3 382.90A7.0 7.0 0 0 1 181.81 392.48Z" fill="#00ff00"/>
<circle cx="142.3" cy="405.45" r="7.0" fill="#0000ff"/>
<path d="M142.3 405.45L142.3 398.45A7.0 7.0 0 1 1 135.33 404.79Z" fill="#00ff00"/>
<circle cx="158.9" cy="405.45" r="7.0" fill="#0000ff"/>
<path d="M158.9 405.45L158.9 398.45A7.0 7.0 0 1 1 157.59 412.33Z" fill="#00ff00"/>
<circle cx="175.3" cy="405.45" r="7.0" fill="#0000ff"/>
<path d="M175.3 405.45L175.3 398.45A7.0 7.0 0 0 1 176.18 412.39Z" fill="#00ff00"/>
<circle cx="142.3" cy="421.00" r="7.0" fill="#0000ff"/>
<path d="M142.3 421.00L142.3 414.00A7.0 7.0 0 1 1 135.30 420.78Z" fill="#00ff00"/>
<circle cx="158.9" cy="421.00" r="7.0" fill="#0000ff"/>
<path d="M158.9 421.00L158.9 414.00A7.0 7.0 0 1 1 155.92 427.33Z" fill="#00ff00"/>
<circle cx="175.3" cy="421.00" r="7.0" fill="#0000ff"/>
<path d="M175.3 421.00L175.3 414.00A7.0 7.0 0 0 1 179.41 426.66Z" fill="#00ff00"/>
<circle cx="142.3" cy="436.55" r="7.0" fill="#0000ff"/>
<path d="M142.3 436.55L142.3 429.55A7.0 7.0 0 1 1 135.42 437.86Z" fill="#00ff00"/>
<circle cx="158.9" cy="436.55" r="7.0" fill="#0000ff"/>
<path d="M158.9 436.55L158.9 429.55A7.0 7.0 0 1 1 158.46 443.54Z" fill="#00ff00"/>
<circle cx="175.3" cy="436.55" r="7.0" fill="#0000ff"/>
<path d="M175.3 436.55L175.3 429.55A7.0 7.0 0 0 1 175.30 443.55Z" fill="#00ff00"/>
<path d="M237.3 257.7V444" stroke="#aaa" stroke-width="0.8" fill="none"/>
<text x="237.3" y="256.8" font-size="9" text-anchor="middle" fill="#111">1</text>
<path d="M292.4 257.7V444" stroke="#aaa" stroke-width="0.8" fill="none"/>
<text x="292.4" y="256.8" font-size="9" text-anchor="middle" fill="#111">0.28</text>
<path d="M370.7 257.7V444" stroke="#aaa" stroke-width="0.8" fill="none"/>
<text x="370.7" y="256.8" font-size="9" text-anchor="middle" fill="#111">0.4</text>
<path d="M528.6 257.7V444" stroke="#aaa" stroke-width="0.8" fill="none"/>
<text x="528.6" y="256.8" font-size="9" text-anchor="middle" fill="#111">0.5</text>
<path d="M684.2 257.7V444" stroke="#aaa" stroke-width="0.8" fill="none"/>
<text x="684.2" y="256.8" font-size="9" text-anchor="middle" fill="#111">1</text>
<rect x="184.9" y="273.73" width="52.23" height="14.65" fill="#2196f3"/>
<text x="185.8" y="284.60" font-size="11.3" letter-spacing="0.16" fill="#fff">0.993</text>
<rect x="240.4" y="273.73" width="49.26" height="14.65" fill="#f44336"/>
<text x="241.3" y="284.60" font-size="11.3" letter-spacing="0.16" fill="#fff">0.264</text>
<rect x="296.0" y="273.73" width="49.23" height="14.65" fill="#9c27b0"/>
<text x="296.9" y="284.60" font-size="11.3" letter-spacing="0.16" fill="#fff">0.263</text>
<rect x="184.9" y="289.28" width="51.34" height="14.65" fill="#2196f3"/>
<text x="185.8" y="300.15" font-size="11.3" letter-spacing="0.16" fill="#fff">0.976</text>
<rect x="240.4" y="289.28" width="52.43" height="14.65" fill="#f44336"/>
<text x="241.3" y="300.15" font-size="11.3" letter-spacing="0.16" fill="#fff">0.281</text>
<rect x="296.0" y="289.28" width="52.98" height="14.65" fill="#9c27b0"/>
<text x="296.9" y="300.15" font-size="11.3" letter-spacing="0.16" fill="#fff">0.283</text>
<rect x="184.9" y="304.82" width="50.44" height="14.65" fill="#2196f3"/>
<text x="185.8" y="315.70" font-size="11.3" letter-spacing="0.16" fill="#fff">0.959</text>
<rect x="240.4" y="304.82" width="50.76" height="14.65" fill="#f44336"/>
<text x="241.3" y="315.70" font-size="11.3" letter-spacing="0.16" fill="#fff">0.272</text>
<rect x="296.0" y="304.82" width="58.97" height="14.65" fill="#9c27b0"/>
<text x="296.9" y="315.70" font-size="11.3" letter-spacing="0.16" fill="#fff">0.315</text>
<rect x="184.9" y="320.38" width="50.60" height="14.65" fill="#2196f3"/>
<text x="185.8" y="331.25" font-size="11.3" letter-spacing="0.16" fill="#fff">0.962</text>
<rect x="240.4" y="320.38" width="49.26" height="14.65" fill="#f44336"/>
<text x="241.3" y="331.25" font-size="11.3" letter-spacing="0.16" fill="#fff">0.264</text>
<rect x="296.0" y="320.38" width="49.98" height="14.65" fill="#9c27b0"/>
<text x="296.9" y="331.25" font-size="11.3" letter-spacing="0.16" fill="#fff">0.267</text>
<rect x="184.9" y="335.93" width="50.55" height="14.65" fill="#2196f3"/>
<text x="185.8" y="346.80" font-size="11.3" letter-spacing="0.16" fill="#fff">0.961</text>
<rect x="240.4" y="335.93" width="49.26" height="14.65" fill="#f44336"/>
<text x="241.3" y="346.80" font-size="11.3" letter-spacing="0.16" fill="#fff">0.264</text>
<rect x="296.0" y="335.93" width="55.60" height="14.65" fill="#9c27b0"/>
<text x="296.9" y="346.80" font-size="11.3" letter-spacing="0.16" fill="#fff">0.297</text>
<rect x="184.9" y="351.48" width="50.50" height="14.65" fill="#2196f3"/>
<text x="185.8" y="362.35" font-size="11.3" letter-spacing="0.16" fill="#fff">0.96</text>
<rect x="240.4" y="351.48" width="49.26" height="14.65" fill="#f44336"/>
<text x="241.3" y="362.35" font-size="11.3" letter-spacing="0.16" fill="#fff">0.264</text>
<rect x="296.0" y="351.48" width="60.47" height="14.65" fill="#9c27b0"/>
<text x="296.9" y="362.35" font-size="11.3" letter-spacing="0.16" fill="#fff">0.323</text>
<rect x="184.9" y="367.03" width="50.08" height="14.65" fill="#2196f3"/>
<text x="185.8" y="377.90" font-size="11.3" letter-spacing="0.16" fill="#fff">0.952</text>
<rect x="240.4" y="367.03" width="49.26" height="14.65" fill="#f44336"/>
<text x="241.3" y="377.90" font-size="11.3" letter-spacing="0.16" fill="#fff">0.264</text>
<rect x="296.0" y="367.03" width="60.28" height="14.65" fill="#9c27b0"/>
<text x="296.9" y="377.90" font-size="11.3" letter-spacing="0.16" fill="#fff">0.322</text>
<rect x="184.9" y="382.57" width="49.76" height="14.65" fill="#2196f3"/>
<text x="185.8" y="393.45" font-size="11.3" letter-spacing="0.16" fill="#fff">0.946</text>
<rect x="240.4" y="382.57" width="51.32" height="14.65" fill="#f44336"/>
<text x="241.3" y="393.45" font-size="11.3" letter-spacing="0.16" fill="#fff">0.275</text>
<rect x="296.0" y="382.57" width="73.94" height="14.65" fill="#9c27b0"/>
<text x="296.9" y="393.45" font-size="11.3" letter-spacing="0.16" fill="#fff">0.395</text>
<rect x="184.9" y="398.13" width="49.86" height="14.65" fill="#2196f3"/>
<text x="185.8" y="409.00" font-size="11.3" letter-spacing="0.16" fill="#fff">0.948</text>
<rect x="240.4" y="398.13" width="49.45" height="14.65" fill="#f44336"/>
<text x="241.3" y="409.00" font-size="11.3" letter-spacing="0.16" fill="#fff">0.265</text>
<rect x="296.0" y="398.13" width="60.65" height="14.65" fill="#9c27b0"/>
<text x="296.9" y="409.00" font-size="11.3" letter-spacing="0.16" fill="#fff">0.324</text>
<rect x="184.9" y="413.68" width="49.81" height="14.65" fill="#2196f3"/>
<text x="185.8" y="424.55" font-size="11.3" letter-spacing="0.16" fill="#fff">0.947</text>
<rect x="240.4" y="413.68" width="48.70" height="14.65" fill="#f44336"/>
<text x="241.3" y="424.55" font-size="11.3" letter-spacing="0.16" fill="#fff">0.261</text>
<rect x="296.0" y="413.68" width="68.70" height="14.65" fill="#9c27b0"/>
<text x="296.9" y="424.55" font-size="11.3" letter-spacing="0.16" fill="#fff">0.367</text>
<rect x="184.9" y="429.23" width="48.02" height="14.65" fill="#2196f3"/>
<text x="185.8" y="440.10" font-size="11.3" letter-spacing="0.16" fill="#fff">0.913</text>
<rect x="240.4" y="429.23" width="50.94" height="14.65" fill="#f44336"/>
<text x="241.3" y="440.10" font-size="11.3" letter-spacing="0.16" fill="#fff">0.273</text>
<rect x="296.0" y="429.23" width="60.28" height="14.65" fill="#9c27b0"/>
<text x="296.9" y="440.10" font-size="11.3" letter-spacing="0.16" fill="#fff">0.322</text>
<rect x="373.3" y="274.10" width="68.7" height="13.9" fill="#607d8b"/>
<rect x="442.0" y="274.10" width="65.8" height="13.9" fill="#ffeb3b"/>
<rect x="507.8" y="274.10" width="9.0" height="13.9" fill="#cddc39"/>
<rect x="516.8" y="274.10" width="6.0" height="13.9" fill="#f44336"/>
<rect x="522.8" y="274.10" width="80.2" height="13.9" fill="#795548"/>
<rect x="603.0" y="274.10" width="78.0" height="13.9" fill="#ff9800"/>
<rect x="681.0" y="274.10" width="2.6" height="13.9" fill="#4caf50"/>
<rect x="683.6" y="274.10" width="0.4" height="13.9" fill="#9c27b0"/>
<rect x="373.3" y="289.65" width="61.2" height="13.9" fill="#607d8b"/>
<rect x="434.5" y="289.65" width="99.7" height="13.9" fill="#ffeb3b"/>
<rect x="534.2" y="289.65" width="10.2" height="13.9" fill="#cddc39"/>
<rect x="544.4" y="289.65" width="4.5" height="13.9" fill="#f44336"/>
<rect x="548.9" y="289.65" width="45.3" height="13.9" fill="#795548"/>
<rect x="594.2" y="289.65" width="72.8" height="13.9" fill="#ff9800"/>
<rect x="667.0" y="289.65" width="8.0" height="13.9" fill="#4caf50"/>
<rect x="675.0" y="289.65" width="9.0" height="13.9" fill="#9c27b0"/>
<rect x="373.3" y="305.20" width="57.7" height="13.9" fill="#607d8b"/>
<rect x="431.0" y="305.20" width="98.0" height="13.9" fill="#ffeb3b"/>
<rect x="529.0" y="305.20" width="14.0" height="13.9" fill="#cddc39"/>
<rect x="543.0" y="305.20" width="4.0" height="13.9" fill="#f44336"/>
<rect x="547.0" y="305.20" width="53.5" height="13.9" fill="#795548"/>
<rect x="600.5" y="305.20" width="71.9" height="13.9" fill="#ff9800"/>
<rect x="672.4" y="305.20" width="7.7" height="13.9" fill="#4caf50"/>
<rect x="680.1" y="305.20" width="3.9" height="13.9" fill="#9c27b0"/>
<rect x="373.3" y="320.75" width="54.6" height="13.9" fill="#607d8b"/>
<rect x="427.9" y="320.75" width="96.9" height="13.9" fill="#ffeb3b"/>
<rect x="524.8" y="320.75" width="12.2" height="13.9" fill="#cddc39"/>
<rect x="537.0" y="320.75" width="2.8" height="13.9" fill="#f44336"/>
<rect x="539.8" y="320.75" width="56.4" height="13.9" fill="#795548"/>
<rect x="596.2" y="320.75" width="78.5" height="13.9" fill="#ff9800"/>
<rect x="674.7" y="320.75" width="7.5" height="13.9" fill="#4caf50"/>
<rect x="682.2" y="320.75" width="1.8" height="13.9" fill="#9c27b0"/>
<rect x="373.3" y="336.30" width="53.7" height="13.9" fill="#607d8b"/>
<rect x="427.0" y="336.30" width="95.5" height="13.9" fill="#ffeb3b"/>
<rect x="522.5" y="336.30" width="11.4" height="13.9" fill="#cddc39"/>
<rect x="533.9" y="336.30" width="4.0" height="13.9" fill="#f44336"/>
<rect x="537.9" y="336.30" width="56.6" height="13.9" fill="#795548"/>
<rect x="594.5" y="336.30" width="75.3" height="13.9" fill="#ff9800"/>
<rect x="669.8" y="336.30" width="9.4" height="13.9" fill="#4caf50"/>
<rect x="679.2" y="336.30" width="4.8" height="13.9" fill="#9c27b0"/>
<rect x="373.3" y="351.85" width="55.6" height="13.9" fill="#607d8b"/>
<rect x="428.9" y="351.85" width="96.1" height="13.9" fill="#ffeb3b"/>
<rect x="525.0" y="351.85" width="10.8" height="13.9" fill="#cddc39"/>
<rect x="535.8" y="351.85" width="1.9" height="13.9" fill="#f44336"/>
<rect x="537.7" y="351.85" width="54.3" height="13.9" fill="#795548"/>
<rect x="592.0" y="351.85" width="76.9" height="13.9" fill="#ff9800"/>
<rect x="668.9" y="351.85" width="10.5" height="13.9" fill="#4caf50"/>
<rect x="679.4" y="351.85" width="4.6" height="13.9" fill="#9c27b0"/>
<rect x="373.3" y="367.40" width="56.0" height="13.9" fill="#607d8b"/>
<rect x="429.3" y="367.40" width="103.9" height="13.9" fill="#ffeb3b"/>
<rect x="533.2" y="367.40" width="16.8" height="13.9" fill="#cddc39"/>
<rect x="550.0" y="367.40" width="4.0" height="13.9" fill="#f44336"/>
<rect x="554.0" y="367.40" width="43.3" height="13.9" fill="#795548"/>
<rect x="597.3" y="367.40" width="73.5" height="13.9" fill="#ff9800"/>
<rect x="670.8" y="367.40" width="7.7" height="13.9" fill="#4caf50"/>
<rect x="678.5" y="367.40" width="5.5" height="13.9" fill="#9c27b0"/>
<rect x="373.3" y="382.95" width="57.4" height="13.9" fill="#607d8b"/>
<rect x="430.7" y="382.95" width="102.1" height="13.9" fill="#ffeb3b"/>
<rect x="532.8" y="382.95" width="15.1" height="13.9" fill="#cddc39"/>
<rect x="547.9" y="382.95" width="4.2" height="13.9" fill="#f44336"/>
<rect x="552.1" y="382.95" width="43.1" height="13.9" fill="#795548"/>
<rect x="595.2" y="382.95" width="74.2" height="13.9" fill="#ff9800"/>
<rect x="669.4" y="382.95" width="8.6" height="13.9" fill="#4caf50"/>
<rect x="678.0" y="382.95" width="6.0" height="13.9" fill="#9c27b0"/>
<rect x="373.3" y="398.50" width="60.5" height="13.9" fill="#607d8b"/>
<rect x="433.8" y="398.50" width="91.9" height="13.9" fill="#ffeb3b"/>
<rect x="525.7" y="398.50" width="11.5" height="13.9" fill="#cddc39"/>
<rect x="537.2" y="398.50" width="4.7" height="13.9" fill="#f44336"/>
<rect x="541.9" y="398.50" width="46.2" height="13.9" fill="#795548"/>
<rect x="588.1" y="398.50" width="77.5" height="13.9" fill="#ff9800"/>
<rect x="665.6" y="398.50" width="13.6" height="13.9" fill="#4caf50"/>
<rect x="679.2" y="398.50" width="4.8" height="13.9" fill="#9c27b0"/>
<rect x="373.3" y="414.05" width="55.1" height="13.9" fill="#607d8b"/>
<rect x="428.4" y="414.05" width="101.6" height="13.9" fill="#ffeb3b"/>
<rect x="530.0" y="414.05" width="17.0" height="13.9" fill="#cddc39"/>
<rect x="547.0" y="414.05" width="5.6" height="13.9" fill="#f44336"/>
<rect x="552.6" y="414.05" width="49.3" height="13.9" fill="#795548"/>
<rect x="601.9" y="414.05" width="67.9" height="13.9" fill="#ff9800"/>
<rect x="669.8" y="414.05" width="8.4" height="13.9" fill="#4caf50"/>
<rect x="678.2" y="414.05" width="5.8" height="13.9" fill="#9c27b0"/>
<rect x="373.3" y="429.60" width="53.5" height="13.9" fill="#607d8b"/>
<rect x="426.8" y="429.60" width="85.3" height="13.9" fill="#ffeb3b"/>
<rect x="512.1" y="429.60" width="16.9" height="13.9" fill="#cddc39"/>
<rect x="529.0" y="429.60" width="6.8" height="13.9" fill="#f44336"/>
<rect x="535.8" y="429.60" width="42.1" height="13.9" fill="#795548"/>
<rect x="577.9" y="429.60" width="90.1" height="13.9" fill="#ff9800"/>
<rect x="668.0" y="429.60" width="12.8" height="13.9" fill="#4caf50"/>
<rect x="680.8" y="429.60" width="3.2" height="13.9" fill="#9c27b0"/>
<g font-size="7.6" fill="#262626">
<path d="M81.5 451.4H83" stroke="#999" stroke-width="0.6"/>
<text x="83.8" y="453.7" font-weight="700" fill="#111">Groups</text>
<path d="M83.2 458.2H124" stroke="#334" stroke-width="0.7" fill="none"/>
<rect x="83.7" y="462.3" width="10.3" height="10.1" fill="#a6cee3" stroke="#888" stroke-width="0.7"/>
<text x="99.2" y="469.5">Group1</text>
<rect x="83.7" y="476.35" width="10.3" height="10.1" fill="#c0b1a4" stroke="#888" stroke-width="0.7"/>
<text x="99.2" y="483.6">Group2</text>
<rect x="83.7" y="490.40000000000003" width="10.3" height="10.1" fill="#b2df8a" stroke="#888" stroke-width="0.7"/>
<text x="99.2" y="497.6">Group3</text>
<text x="130.7" y="453.7" font-weight="700" fill="#111">Compare NUMTs to MT</text>
<path d="M130.2 457.6H567.2" stroke="#bdbdbd" stroke-width="0.8" fill="none"/>
<text x="132.9" y="466.6" font-weight="700" fill="#111">Ti/Tv</text>
<path d="M131.4 471.5H157.3" stroke="#445" stroke-width="0.7" fill="none"/>
<rect x="132.3" y="475.1" width="10.3" height="10.1" fill="#00ff00"/>
<text x="148.6" y="482.6">Ti</text>
<rect x="132.3" y="490.70000000000005" width="10.3" height="10.1" fill="#0000ff"/>
<text x="148.6" y="498.2">Tv</text>
<text x="164.7" y="466.6" font-weight="700" fill="#111">GC/AT</text>
<path d="M163.2 471.5H208.8" stroke="#445" stroke-width="0.7" fill="none"/>
<rect x="164.2" y="475.1" width="10.3" height="10.1" fill="#00ff00"/>
<text x="180.0" y="482.6">AT-&gt;GC</text>
<rect x="164.2" y="490.70000000000005" width="10.3" height="10.1" fill="#0000ff"/>
<text x="180.0" y="498.2">GC-&gt;AT</text>
<text x="216.8" y="466.6" font-weight="700" fill="#111">Repeats</text>
<path d="M215.4 471.5H258.0" stroke="#445" stroke-width="0.7" fill="none"/>
<rect x="216.4" y="475.1" width="10.3" height="10.1" fill="#00ff00"/>
<text x="232.1" y="482.6">NUMT</text>
<rect x="216.4" y="490.70000000000005" width="10.3" height="10.1" fill="#0000ff"/>
<text x="232.1" y="498.2">Repeat</text>
<text x="266.7" y="466.6" font-weight="700" fill="#111">Identity</text>
<path d="M265.3 471.5H296.2" stroke="#445" stroke-width="0.7" fill="none"/>
<rect x="266.4" y="475.40000000000003" width="10.3" height="10.1" fill="#2196f3"/>
<text x="304.1" y="466.6" font-weight="700" fill="#111">GC content</text>
<path d="M302.7 471.5H359.8" stroke="#445" stroke-width="0.7" fill="none"/>
<rect x="304.9" y="475.8" width="10.3" height="10.1" fill="#f44336"/>
<text x="319.9" y="483.3">MT</text>
<rect x="304.9" y="491.40000000000003" width="10.3" height="10.1" fill="#9c27b0"/>
<text x="319.9" y="498.9">NUMT</text>
<text x="376.3" y="466.6" font-weight="700" fill="#111">VariantPercent</text>
<path d="M375.2 471.4H567.2" stroke="#445" stroke-width="0.7" fill="none"/>
<rect x="376.2" y="475.0" width="10.3" height="10.1" fill="#607d8b"/>
<text x="393.3" y="482.2">A-&gt;G</text>
<rect x="425.7" y="475.0" width="10.3" height="10.1" fill="#ffeb3b"/>
<text x="442.9" y="482.2">T-&gt;C</text>
<rect x="474.0" y="475.0" width="10.3" height="10.1" fill="#cddc39"/>
<text x="490.7" y="482.2">A-&gt;C</text>
<rect x="523.0" y="475.0" width="10.3" height="10.1" fill="#f44336"/>
<text x="540.1" y="482.2">T-&gt;G</text>
<rect x="376.2" y="490.8" width="10.3" height="10.1" fill="#795548"/>
<text x="393.3" y="498.0">G-&gt;A</text>
<rect x="425.7" y="490.8" width="10.3" height="10.1" fill="#ff9800"/>
<text x="442.9" y="498.0">C-&gt;T</text>
<rect x="474.0" y="490.8" width="10.3" height="10.1" fill="#4caf50"/>
<text x="490.7" y="498.0">C-&gt;A</text>
<rect x="523.0" y="490.8" width="10.3" height="10.1" fill="#9c27b0"/>
<text x="540.1" y="498.0">G-&gt;T</text>
</g>
</g>
</svg>
</body></html>
